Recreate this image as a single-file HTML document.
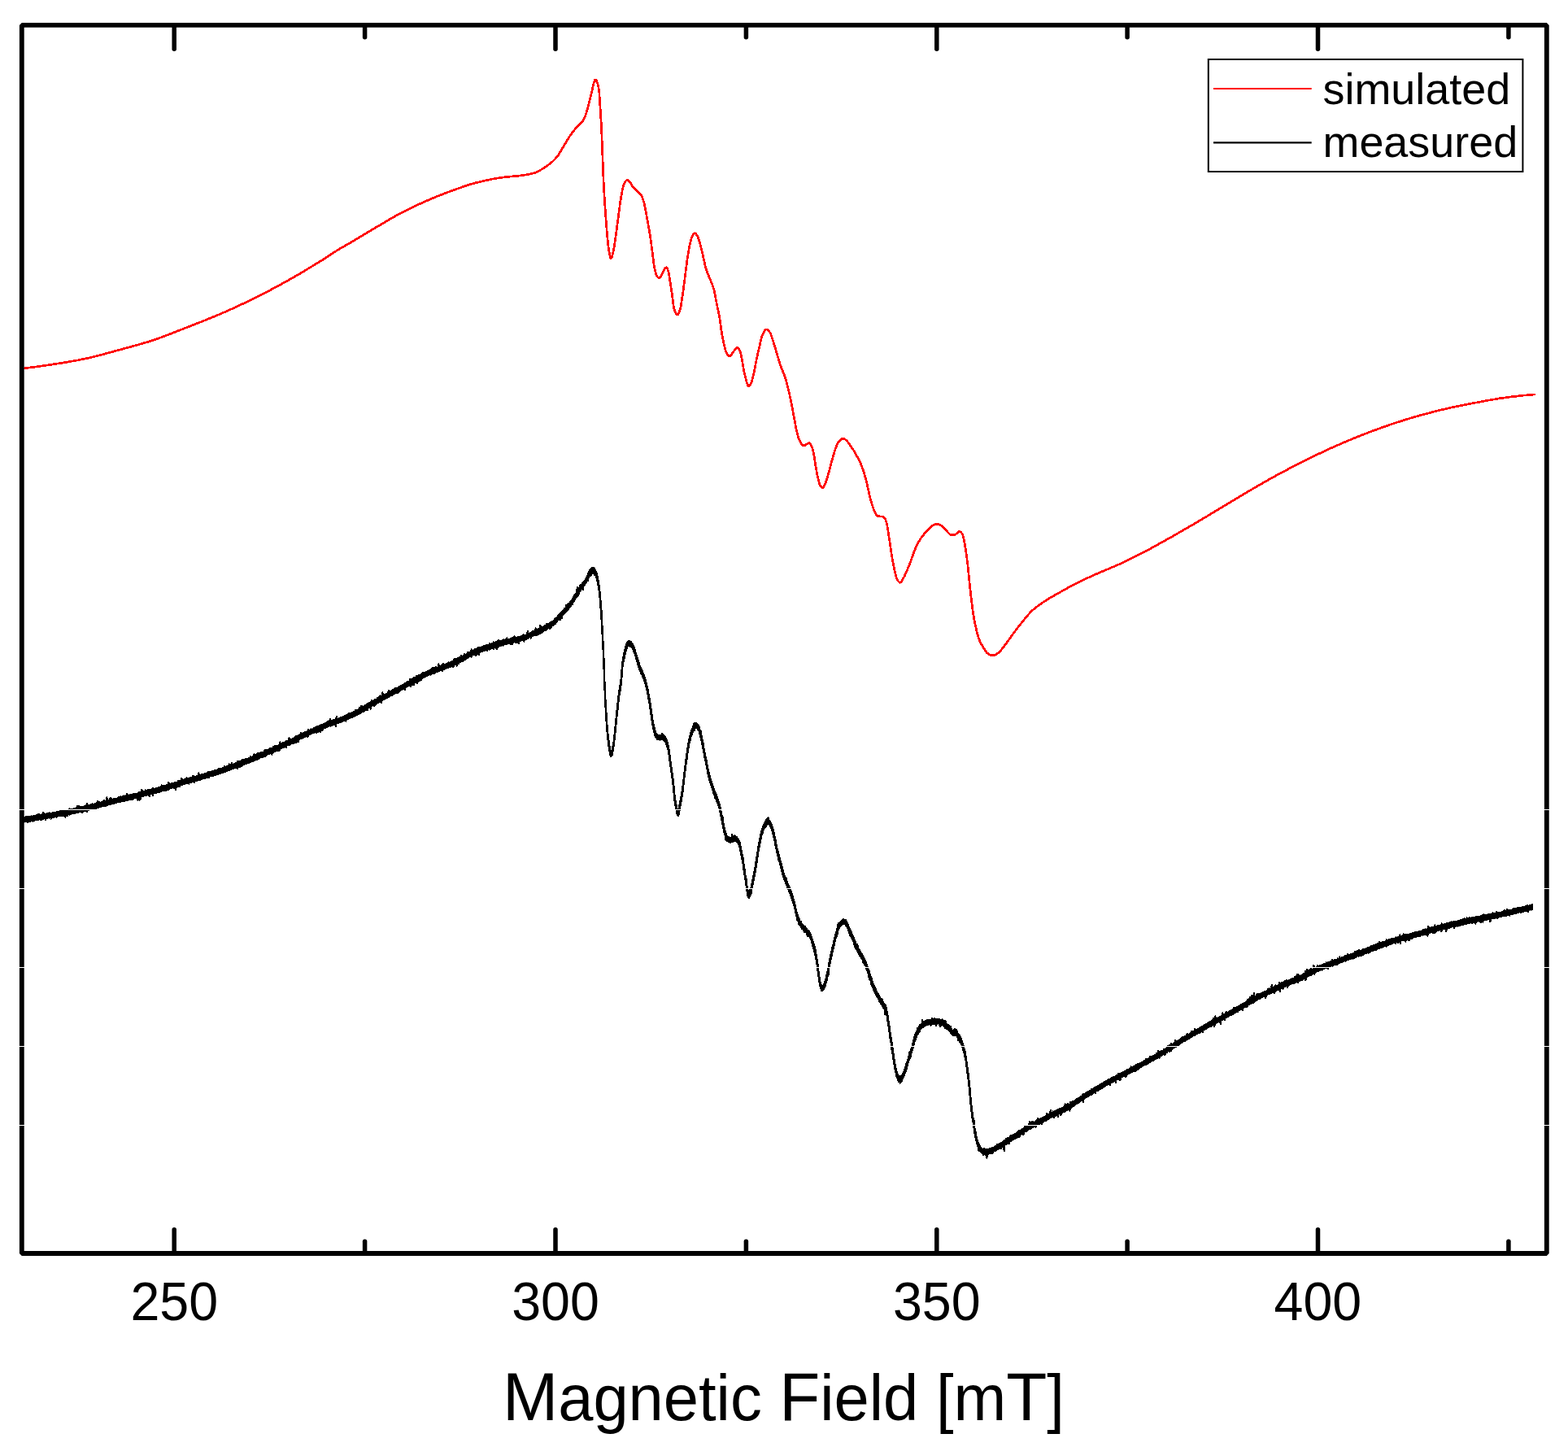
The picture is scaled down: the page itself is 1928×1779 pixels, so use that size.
<!DOCTYPE html>
<html><head><meta charset="utf-8"><title>Magnetic Field [mT]</title>
<style>
html,body{margin:0;padding:0;background:#fff;}
body{width:1928px;height:1779px;overflow:hidden;}
svg{display:block;}
text{font-family:"Liberation Sans",Arial,sans-serif;fill:#000;}
</style></head>
<body>
<svg width="1928" height="1779" viewBox="0 0 1928 1779">
<rect width="1928" height="1779" fill="#fff"/>
<!-- ticks -->
<g stroke="#000" stroke-width="5.5" stroke-linecap="round" fill="none">
<line x1="214.2" y1="1541.0" x2="214.2" y2="1511.7"/>
<line x1="214.2" y1="30.9" x2="214.2" y2="60.2"/>
<line x1="448.6" y1="1541.0" x2="448.6" y2="1526.2"/>
<line x1="448.6" y1="30.9" x2="448.6" y2="45.7"/>
<line x1="683.0" y1="1541.0" x2="683.0" y2="1511.7"/>
<line x1="683.0" y1="30.9" x2="683.0" y2="60.2"/>
<line x1="917.4" y1="1541.0" x2="917.4" y2="1526.2"/>
<line x1="917.4" y1="30.9" x2="917.4" y2="45.7"/>
<line x1="1151.8" y1="1541.0" x2="1151.8" y2="1511.7"/>
<line x1="1151.8" y1="30.9" x2="1151.8" y2="60.2"/>
<line x1="1386.1" y1="1541.0" x2="1386.1" y2="1526.2"/>
<line x1="1386.1" y1="30.9" x2="1386.1" y2="45.7"/>
<line x1="1620.5" y1="1541.0" x2="1620.5" y2="1511.7"/>
<line x1="1620.5" y1="30.9" x2="1620.5" y2="60.2"/>
<line x1="1854.9" y1="1541.0" x2="1854.9" y2="1526.2"/>
<line x1="1854.9" y1="30.9" x2="1854.9" y2="45.7"/>
</g>
<!-- curves -->
<path d="M27.3,453.2 50.5,450.1 76.5,446.2 95.0,443.0 109.8,439.9 126.0,435.8 161.1,426.3 172.8,423.0 181.3,420.5 188.8,418.1 196.3,415.5 204.6,412.4 250.3,394.5 261.8,389.8 272.1,385.5 286.1,379.3 299.8,372.9 313.3,366.4 326.1,360.0 337.3,354.0 349.1,347.6 359.1,342.0 369.6,335.9 394.6,320.8 412.1,309.4 418.3,305.5 434.8,296.1 459.1,281.5 482.3,267.8 491.1,262.9 500.6,258.1 511.1,253.0 521.5,248.2 536.8,241.7 551.5,236.0 571.8,228.7 578.3,226.6 584.3,224.9 599.3,221.4 606.0,220.0 612.3,218.9 621.0,217.7 639.0,216.1 648.0,214.7 652.5,213.8 656.8,212.7 659.3,211.8 661.8,210.6 664.3,209.3 667.3,207.4 675.3,202.0 680.0,198.0 684.0,193.9 685.3,192.5 686.8,190.3 697.8,171.7 699.8,168.6 702.5,164.7 705.8,160.3 708.8,156.7 710.3,155.2 714.5,151.3 716.0,149.6 717.0,148.1 718.0,146.3 719.3,143.5 721.0,138.6 724.3,126.7 730.3,101.6 731.3,98.6 731.8,97.9 732.0,97.8 732.5,98.1 733.3,99.1 734.3,101.2 735.0,103.2 736.0,107.7 736.8,112.9 739.5,155.5 742.0,220.8 742.8,235.8 744.3,259.7 746.3,286.0 748.0,303.1 748.8,308.5 749.5,312.3 750.3,315.7 750.8,317.1 751.0,317.6 751.3,317.7 751.8,317.3 752.5,315.5 754.3,308.8 755.0,304.7 758.0,284.0 762.5,249.8 764.3,238.8 765.3,233.5 767.0,227.1 767.8,225.1 768.5,223.6 769.8,222.1 770.8,221.3 771.5,221.2 772.5,221.8 775.3,225.0 778.0,229.4 779.3,231.1 781.3,233.1 786.8,238.2 787.8,239.3 789.0,241.1 790.0,243.5 791.8,248.9 793.0,254.3 798.5,284.0 800.0,293.7 804.0,324.9 805.5,332.8 806.5,336.8 807.3,338.7 808.8,340.9 809.8,341.8 810.3,342.0 810.8,342.0 811.3,341.7 812.0,340.7 817.0,331.1 818.0,329.6 818.8,328.9 819.3,328.8 819.8,329.1 820.5,330.3 822.0,334.1 822.5,336.4 826.3,361.4 827.8,373.3 828.5,378.2 829.5,381.5 831.0,385.1 832.0,386.6 832.5,386.9 833.0,387.0 833.5,386.7 834.0,386.0 835.3,383.2 836.8,378.5 837.5,374.7 840.3,355.7 845.0,319.2 846.8,308.0 848.0,301.4 849.8,294.3 850.5,291.9 851.0,290.8 852.5,288.3 853.5,287.2 854.0,286.9 854.5,286.8 855.0,287.0 855.5,287.3 856.5,288.6 857.8,290.7 858.5,292.3 859.3,294.5 861.0,300.4 862.0,304.3 864.5,315.0 866.8,325.3 868.0,330.2 869.8,335.2 876.0,350.4 877.8,355.9 878.8,360.4 881.0,372.1 884.5,389.0 885.3,393.7 887.0,406.7 888.5,415.2 891.5,428.8 892.3,431.6 893.0,433.6 894.5,435.8 895.8,437.1 896.8,437.8 897.3,437.9 897.8,437.8 898.3,437.6 899.0,436.8 901.5,432.9 904.3,428.9 905.3,427.8 906.0,427.3 906.8,427.4 907.5,427.9 908.5,429.2 910.0,431.8 910.8,434.3 912.5,443.1 914.3,453.8 915.8,461.0 916.8,465.1 918.5,470.9 919.5,473.6 920.3,474.7 920.5,474.8 921.0,474.7 922.0,473.7 923.3,471.6 924.3,469.4 925.0,466.9 927.3,457.1 930.0,442.9 931.5,436.0 936.0,416.6 937.3,412.1 938.5,409.5 940.0,407.0 941.0,405.7 942.0,405.1 942.5,405.0 943.0,405.1 944.0,405.6 945.0,406.6 946.5,408.4 947.3,409.7 948.0,411.5 951.0,420.4 958.8,446.7 960.0,450.1 964.0,460.1 965.8,465.4 967.5,471.3 969.8,480.4 972.8,494.2 978.8,526.1 980.5,533.5 982.0,538.8 983.0,541.4 984.8,544.5 986.0,546.4 987.3,547.6 988.3,547.9 989.3,547.7 990.3,547.2 993.3,545.1 994.3,544.7 995.0,544.6 995.8,545.0 996.5,545.9 997.3,547.2 998.5,549.8 999.5,553.1 1000.8,559.0 1002.8,572.5 1005.0,584.5 1007.3,593.5 1008.0,595.8 1008.5,597.0 1009.5,598.4 1010.3,599.3 1011.0,599.8 1011.5,599.8 1012.0,599.4 1012.8,598.5 1015.0,594.0 1016.3,590.5 1018.5,582.9 1022.3,568.4 1025.8,556.1 1026.8,553.1 1028.5,548.6 1029.8,545.8 1030.8,543.9 1032.3,542.0 1033.8,540.4 1035.0,539.4 1036.0,539.1 1037.3,539.3 1038.8,540.0 1040.5,541.2 1041.8,542.5 1048.5,552.0 1050.8,555.5 1057.0,567.1 1059.3,572.2 1062.3,581.0 1064.8,589.7 1066.3,595.7 1069.0,608.6 1070.5,614.4 1073.5,624.0 1075.0,628.0 1077.3,632.2 1078.0,633.4 1078.8,634.2 1079.3,634.6 1079.8,634.7 1084.5,635.0 1086.0,635.2 1086.8,635.8 1087.5,636.6 1088.5,638.1 1089.0,639.2 1090.3,643.6 1091.3,648.3 1097.0,686.2 1099.3,698.3 1101.3,706.9 1102.3,710.6 1103.0,712.4 1104.8,714.9 1105.8,715.8 1106.5,716.2 1107.0,716.2 1107.8,715.7 1109.0,714.0 1112.0,708.6 1114.0,704.2 1118.3,694.0 1120.3,688.8 1123.5,679.4 1125.0,675.7 1127.8,669.5 1130.3,665.0 1132.0,662.3 1134.0,659.5 1139.5,652.7 1142.3,649.8 1146.5,646.4 1149.0,644.8 1150.3,644.3 1151.3,644.2 1152.5,644.3 1153.8,644.6 1157.3,646.0 1158.3,646.7 1159.5,647.9 1167.3,656.4 1168.3,657.3 1169.0,657.6 1169.5,657.7 1171.5,657.6 1174.0,657.4 1174.5,657.2 1175.5,656.6 1178.3,653.9 1179.0,653.5 1179.5,653.3 1180.3,653.4 1181.0,653.8 1181.8,654.5 1182.5,655.5 1183.8,657.7 1184.5,660.3 1186.3,668.9 1187.5,676.6 1188.5,683.5 1189.8,693.8 1193.0,725.1 1195.3,744.8 1196.5,753.6 1197.5,759.7 1198.8,766.3 1200.3,773.2 1202.0,780.1 1203.5,785.0 1204.8,788.1 1206.5,791.6 1211.5,800.0 1213.0,802.1 1213.8,802.9 1214.8,803.6 1216.8,804.7 1218.3,805.4 1219.5,805.7 1220.5,805.8 1221.5,805.7 1222.5,805.5 1224.3,804.7 1226.8,803.3 1228.5,801.9 1230.5,799.7 1235.8,793.0 1247.8,776.4 1251.8,771.1 1262.5,757.8 1265.8,754.1 1269.5,750.4 1274.5,746.3 1281.8,741.0 1289.0,736.3 1293.0,734.0 1315.5,721.3 1326.0,715.8 1335.0,711.6 1347.8,705.8 1370.5,696.2 1379.8,692.1 1395.3,684.5 1414.8,674.4 1442.8,658.8 1467.0,644.9 1481.0,636.6 1529.0,607.7 1546.0,597.7 1558.3,590.7 1570.5,583.9 1584.5,576.5 1605.0,566.0 1619.5,558.9 1635.3,551.5 1651.0,544.6 1668.0,537.5 1684.0,531.2 1700.8,525.1 1715.5,520.0 1732.0,514.8 1747.8,510.2 1766.8,505.2 1784.8,501.0 1803.3,497.2 1830.3,492.1 1843.3,489.9 1857.3,488.0 1872.8,486.2 1886.7,485.0" shape-rendering="crispEdges" fill="none" stroke="#ff0000" stroke-width="2.7" stroke-linejoin="round" stroke-linecap="round"/>
<path d="M29.3,1005.4 29.8,1005.5 30.3,1005.4 30.8,1005.3 31.3,1004.6 31.8,1005.0 32.3,1004.9 32.8,1004.6 33.3,1004.1 33.8,1004.4 34.3,1004.4 34.8,1004.5 35.3,1004.2 35.8,1004.2 36.3,1004.4 36.8,1004.4 37.3,1004.0 37.8,1004.0 38.3,1004.3 38.8,1003.5 39.3,1004.1 39.8,1004.0 40.3,1003.5 40.8,1003.0 41.3,1003.5 41.8,1003.6 42.3,1002.7 42.8,1003.4 43.3,1003.0 43.8,1003.2 44.3,1003.2 44.8,1002.6 45.3,1002.9 45.8,1002.9 46.3,1001.6 46.8,1002.4 47.3,1002.3 47.8,1002.3 48.3,1000.8 48.8,1002.2 49.3,1002.6 49.8,1002.3 50.3,1002.0 50.8,1001.8 51.3,1001.6 51.8,1001.6 52.3,1002.0 52.8,998.8 53.3,1000.5 53.8,1001.7 54.3,999.8 54.8,1001.1 55.3,1001.3 55.8,1001.3 56.3,1001.3 56.8,1001.0 57.3,1001.2 57.8,1000.4 58.3,1000.8 58.8,1000.8 59.3,1000.6 59.8,1000.8 60.3,999.6 60.8,1000.2 61.3,1000.3 61.8,999.9 62.3,1000.3 62.8,1000.0 63.3,1000.0 63.8,1000.0 64.3,999.6 64.8,999.6 65.3,999.4 65.8,999.2 66.3,999.6 66.8,999.5 67.3,999.0 67.8,999.4 68.3,999.0 68.8,998.9 69.3,999.1 69.8,999.0 70.3,998.2 70.8,998.3 71.3,998.2 71.8,998.4 72.3,998.0 72.8,998.5 73.3,997.4 73.8,997.7 74.3,997.6 74.8,997.7 75.3,997.6 75.8,997.3 76.3,997.1 76.8,996.4 77.3,997.4 77.8,996.5 78.3,996.8 78.8,997.1 79.3,997.0 79.8,996.7 80.3,996.2 80.8,996.4 81.3,996.2 81.8,996.4 82.3,996.0 82.8,995.9 83.3,996.0 83.8,996.3 84.3,996.0 84.8,995.4 85.3,995.0 85.8,994.6 86.3,995.7 86.8,995.1 87.3,995.3 87.8,995.4 88.3,995.1 88.8,995.2 89.3,994.9 89.8,994.7 90.3,994.5 90.8,994.4 91.3,994.5 91.8,994.3 92.3,993.9 92.8,994.0 93.3,994.3 93.8,993.0 94.3,993.2 94.8,992.5 95.3,991.3 95.8,992.3 96.3,993.1 96.8,990.9 97.3,992.9 97.8,992.8 98.3,993.1 98.8,992.5 99.3,992.6 99.8,992.6 100.3,992.3 100.8,992.5 101.3,992.4 101.8,991.9 102.3,992.2 102.8,992.1 103.3,991.8 103.8,991.4 104.3,991.4 104.8,991.3 105.3,991.1 105.8,991.5 106.3,991.2 106.8,988.0 107.3,990.4 107.8,991.0 108.3,990.9 108.8,990.6 109.3,990.5 109.8,990.0 110.3,990.1 110.8,990.4 111.3,989.6 111.8,989.5 112.3,989.7 112.8,989.5 113.3,989.4 113.8,988.6 114.3,989.3 114.8,989.5 115.3,989.0 115.8,989.1 116.3,988.7 116.8,988.6 117.3,988.5 117.8,988.6 118.3,987.9 118.8,987.6 119.3,987.6 119.8,985.2 120.3,987.9 120.8,987.5 121.3,987.4 121.8,986.3 122.3,986.7 122.8,987.1 123.3,987.0 123.8,986.7 124.3,986.5 124.8,986.3 125.3,986.7 125.8,986.2 126.3,986.1 126.8,985.0 127.3,986.1 127.8,985.7 128.3,983.9 128.8,985.5 129.3,985.2 129.8,985.2 130.3,985.2 130.8,983.1 131.3,980.6 131.8,984.3 132.3,984.8 132.8,984.7 133.3,984.4 133.8,984.1 134.3,984.3 134.8,982.6 135.3,984.0 135.8,983.7 136.3,981.1 136.8,983.6 137.3,983.3 137.8,983.3 138.3,983.4 138.8,983.0 139.3,982.5 139.8,982.4 140.3,982.8 140.8,982.6 141.3,982.0 141.8,982.5 142.3,982.1 142.8,981.7 143.3,982.0 143.8,981.8 144.3,981.7 144.8,981.2 145.3,980.6 145.8,981.5 146.3,980.3 146.8,980.3 147.3,981.1 147.8,980.5 148.3,979.5 148.8,980.0 149.3,980.6 149.8,979.9 150.3,980.0 150.8,979.6 151.3,979.6 151.8,979.7 152.3,979.5 152.8,978.6 153.3,979.2 153.8,979.3 154.3,979.4 154.8,978.7 155.3,978.9 155.8,976.0 156.3,978.8 156.8,978.7 157.3,976.8 157.8,978.2 158.3,977.7 158.8,978.3 159.3,978.0 159.8,977.7 160.3,977.0 160.8,977.6 161.3,977.6 161.8,977.1 162.3,977.2 162.8,976.9 163.3,977.1 163.8,976.4 164.3,976.7 164.8,976.2 165.3,976.1 165.8,976.1 166.3,976.4 166.8,976.0 167.3,975.9 167.8,975.8 168.3,975.8 168.8,975.9 169.3,975.4 169.8,975.6 170.3,975.2 170.8,973.8 171.3,975.1 171.8,974.6 172.3,974.7 172.8,974.3 173.3,974.3 173.8,974.0 174.3,971.0 174.8,974.2 175.3,974.1 175.8,973.8 176.3,973.6 176.8,973.4 177.3,973.7 177.8,973.6 178.3,973.5 178.8,971.5 179.3,972.6 179.8,972.4 180.3,972.3 180.8,971.9 181.3,971.8 181.8,970.8 182.3,971.7 182.8,972.2 183.3,971.7 183.8,971.5 184.3,971.2 184.8,971.2 185.3,970.9 185.8,970.8 186.3,971.3 186.8,970.8 187.3,970.5 187.8,969.0 188.3,970.3 188.8,970.0 189.3,969.9 189.8,970.1 190.3,969.7 190.8,969.8 191.3,969.5 191.8,969.8 192.3,969.1 192.8,969.5 193.3,969.4 193.8,968.8 194.3,968.8 194.8,968.6 195.3,968.3 195.8,968.3 196.3,967.9 196.8,968.0 197.3,968.1 197.8,967.4 198.3,967.8 198.8,965.6 199.3,967.0 199.8,967.0 200.3,967.3 200.8,966.0 201.3,966.4 201.8,966.3 202.3,966.7 202.8,965.9 203.3,966.2 203.8,966.0 204.3,965.5 204.8,965.7 205.3,965.4 205.8,965.2 206.3,965.3 206.8,965.3 207.3,962.4 207.8,963.2 208.3,964.5 208.8,964.7 209.3,964.4 209.8,963.6 210.3,963.6 210.8,964.0 211.3,963.8 211.8,963.2 212.3,963.2 212.8,962.9 213.3,963.1 213.8,963.0 214.3,963.0 214.8,962.3 215.3,962.4 215.8,962.0 216.3,962.2 216.8,961.8 217.3,962.1 217.8,962.0 218.3,961.7 218.8,961.5 219.3,960.3 219.8,961.1 220.3,961.1 220.8,960.5 221.3,960.7 221.8,960.4 222.3,960.1 222.8,959.8 223.3,957.0 223.8,959.0 224.3,959.7 224.8,959.7 225.3,959.2 225.8,958.9 226.3,958.8 226.8,958.4 227.3,958.9 227.8,958.4 228.3,958.6 228.8,958.6 229.3,956.6 229.8,958.4 230.3,957.8 230.8,957.6 231.3,956.8 231.8,957.4 232.3,957.3 232.8,956.9 233.3,957.3 233.8,956.3 234.3,956.8 234.8,956.7 235.3,956.2 235.8,956.2 236.3,956.0 236.8,956.2 237.3,954.1 237.8,954.6 238.3,955.4 238.8,954.6 239.3,955.0 239.8,955.1 240.3,955.3 240.8,955.0 241.3,954.6 241.8,954.7 242.3,954.1 242.8,953.8 243.3,953.6 243.8,953.9 244.3,950.5 244.8,953.6 245.3,953.8 245.8,953.5 246.3,953.2 246.8,952.9 247.3,952.7 247.8,952.6 248.3,952.3 248.8,951.7 249.3,952.2 249.8,952.0 250.3,951.9 250.8,952.0 251.3,951.7 251.8,951.3 252.3,951.3 252.8,951.2 253.3,950.9 253.8,951.2 254.3,951.1 254.8,950.4 255.3,950.8 255.8,949.2 256.3,950.0 256.8,949.9 257.3,950.1 257.8,949.5 258.3,949.8 258.8,949.3 259.3,948.8 259.8,949.4 260.3,948.9 260.8,948.6 261.3,948.7 261.8,948.5 262.3,947.7 262.8,947.9 263.3,948.1 263.8,947.0 264.3,948.0 264.8,947.7 265.3,946.9 265.8,947.4 266.3,947.1 266.8,947.0 267.3,946.9 267.8,946.3 268.3,946.2 268.8,945.6 269.3,946.0 269.8,946.2 270.3,945.2 270.8,945.8 271.3,945.5 271.8,945.1 272.3,945.2 272.8,944.9 273.3,945.1 273.8,944.5 274.3,944.1 274.8,944.1 275.3,944.4 275.8,942.1 276.3,944.0 276.8,943.5 277.3,943.3 277.8,943.3 278.3,943.0 278.8,943.0 279.3,942.0 279.8,942.5 280.3,942.2 280.8,942.3 281.3,942.2 281.8,939.5 282.3,941.8 282.8,941.3 283.3,941.5 283.8,940.9 284.3,940.9 284.8,938.0 285.3,940.2 285.8,940.2 286.3,940.1 286.8,939.7 287.3,939.7 287.8,939.3 288.3,939.2 288.8,939.1 289.3,939.3 289.8,938.6 290.3,938.5 290.8,938.5 291.3,938.4 291.8,936.2 292.3,938.0 292.8,938.0 293.3,937.6 293.8,935.9 294.3,937.5 294.8,935.8 295.3,937.0 295.8,936.5 296.3,936.0 296.8,936.4 297.3,934.5 297.8,936.0 298.3,935.3 298.8,935.2 299.3,934.2 299.8,934.0 300.3,935.1 300.8,934.6 301.3,934.1 301.8,933.1 302.3,933.8 302.8,933.7 303.3,933.4 303.8,933.5 304.3,932.9 304.8,933.3 305.3,932.6 305.8,932.9 306.3,932.6 306.8,931.9 307.3,932.2 307.8,930.1 308.3,931.7 308.8,931.5 309.3,931.5 309.8,931.3 310.3,930.9 310.8,930.8 311.3,930.1 311.8,930.1 312.3,927.6 312.8,930.1 313.3,929.9 313.8,927.8 314.3,929.3 314.8,929.0 315.3,928.6 315.8,928.2 316.3,927.9 316.8,925.9 317.3,927.6 317.8,926.5 318.3,926.2 318.8,927.3 319.3,926.9 319.8,926.6 320.3,926.7 320.8,925.5 321.3,925.4 321.8,925.9 322.3,925.5 322.8,925.4 323.3,924.8 323.8,924.9 324.3,924.5 324.8,924.7 325.3,924.1 325.8,922.0 326.3,924.0 326.8,923.6 327.3,923.6 327.8,922.5 328.3,922.6 328.8,923.1 329.3,922.8 329.8,922.6 330.3,921.7 330.8,921.9 331.3,921.5 331.8,920.0 332.3,921.1 332.8,920.9 333.3,919.9 333.8,920.4 334.3,920.5 334.8,920.0 335.3,919.5 335.8,919.3 336.3,918.1 336.8,918.7 337.3,918.8 337.8,917.2 338.3,918.2 338.8,918.2 339.3,917.7 339.8,917.5 340.3,917.5 340.8,917.5 341.3,916.9 341.8,917.0 342.3,916.7 342.8,916.4 343.3,916.2 343.8,915.6 344.3,912.6 344.8,915.4 345.3,915.1 345.8,914.9 346.3,914.6 346.8,914.4 347.3,913.8 347.8,913.9 348.3,913.1 348.8,913.5 349.3,913.2 349.8,913.2 350.3,912.8 350.8,912.9 351.3,912.1 351.8,912.2 352.3,911.3 352.8,911.8 353.3,911.1 353.8,911.3 354.3,910.8 354.8,910.9 355.3,908.4 355.8,907.4 356.3,909.7 356.8,909.4 357.3,909.6 357.8,909.4 358.3,909.0 358.8,908.7 359.3,908.4 359.8,908.2 360.3,908.4 360.8,907.8 361.3,907.7 361.8,907.5 362.3,907.3 362.8,906.8 363.3,906.3 363.8,906.2 364.3,905.0 364.8,905.8 365.3,905.9 365.8,905.1 366.3,905.0 366.8,904.1 367.3,904.4 367.8,904.3 368.3,904.5 368.8,904.0 369.3,902.8 369.8,901.3 370.3,900.8 370.8,903.1 371.3,902.7 371.8,902.2 372.3,902.3 372.8,901.2 373.3,901.6 373.8,901.5 374.3,901.5 374.8,901.1 375.3,900.1 375.8,900.6 376.3,900.6 376.8,899.9 377.3,900.0 377.8,899.5 378.3,899.2 378.8,899.3 379.3,897.4 379.8,897.8 380.3,898.3 380.8,898.1 381.3,897.8 381.8,897.8 382.3,896.5 382.8,897.1 383.3,896.8 383.8,896.7 384.3,896.5 384.8,896.4 385.3,895.7 385.8,895.6 386.3,895.2 386.8,895.2 387.3,895.1 387.8,894.9 388.3,894.2 388.8,894.1 389.3,893.9 389.8,893.2 390.3,893.4 390.8,893.1 391.3,893.4 391.8,893.0 392.3,892.5 392.8,892.2 393.3,892.5 393.8,891.8 394.3,891.6 394.8,891.6 395.3,891.7 395.8,891.6 396.3,890.9 396.8,891.2 397.3,890.6 397.8,890.4 398.3,889.9 398.8,890.0 399.3,889.6 399.8,889.7 400.3,889.3 400.8,889.5 401.3,888.7 401.8,888.8 402.3,888.5 402.8,886.9 403.3,888.1 403.8,888.1 404.3,887.7 404.8,888.0 405.3,887.7 405.8,884.3 406.3,887.1 406.8,887.3 407.3,885.9 407.8,886.7 408.3,886.4 408.8,886.1 409.3,885.7 409.8,885.6 410.3,886.1 410.8,885.8 411.3,885.3 411.8,885.0 412.3,885.2 412.8,884.8 413.3,884.7 413.8,881.4 414.3,884.6 414.8,883.6 415.3,884.0 415.8,883.7 416.3,883.5 416.8,883.5 417.3,882.9 417.8,882.7 418.3,883.0 418.8,882.4 419.3,882.5 419.8,882.3 420.3,882.0 420.8,881.9 421.3,881.4 421.8,880.9 422.3,881.0 422.8,881.3 423.3,880.4 423.8,880.8 424.3,880.3 424.8,879.9 425.3,880.2 425.8,879.6 426.3,879.3 426.8,879.6 427.3,878.8 427.8,879.0 428.3,878.8 428.8,876.7 429.3,878.5 429.8,878.2 430.3,877.8 430.8,877.1 431.3,877.0 431.8,876.9 432.3,876.9 432.8,876.4 433.3,875.9 433.8,875.9 434.3,876.1 434.8,875.7 435.3,875.1 435.8,875.2 436.3,875.0 436.8,874.5 437.3,873.0 437.8,874.4 438.3,873.6 438.8,873.3 439.3,873.1 439.8,873.4 440.3,872.7 440.8,872.7 441.3,871.9 441.8,872.3 442.3,870.3 442.8,871.7 443.3,870.7 443.8,868.6 444.3,870.3 444.8,868.0 445.3,869.7 445.8,869.8 446.3,869.2 446.8,869.4 447.3,868.9 447.8,868.5 448.3,868.5 448.8,867.6 449.3,868.0 449.8,867.7 450.3,867.1 450.8,866.7 451.3,865.5 451.8,866.3 452.3,865.7 452.8,865.4 453.3,865.4 453.8,865.0 454.3,864.3 454.8,864.5 455.3,864.5 455.8,864.0 456.3,863.5 456.8,861.2 457.3,862.9 457.8,863.1 458.3,862.5 458.8,862.3 459.3,861.8 459.8,861.5 460.3,861.6 460.8,859.9 461.3,860.5 461.8,860.9 462.3,860.4 462.8,860.2 463.3,859.4 463.8,859.1 464.3,858.0 464.8,858.7 465.3,858.3 465.8,856.7 466.3,858.3 466.8,857.9 467.3,855.6 467.8,857.4 468.3,857.1 468.8,856.6 469.3,856.4 469.8,856.0 470.3,851.6 470.8,855.7 471.3,855.4 471.8,855.2 472.3,854.2 472.8,854.8 473.3,854.3 473.8,854.1 474.3,853.9 474.8,853.4 475.3,852.9 475.8,852.7 476.3,852.4 476.8,852.2 477.3,852.3 477.8,849.2 478.3,851.2 478.8,850.9 479.3,851.1 479.8,850.5 480.3,850.6 480.8,850.4 481.3,850.1 481.8,849.3 482.3,849.3 482.8,848.5 483.3,849.0 483.8,848.1 484.3,847.9 484.8,847.6 485.3,847.8 485.8,847.2 486.3,846.2 486.8,846.6 487.3,846.3 487.8,846.0 488.3,846.0 488.8,845.8 489.3,845.4 489.8,845.0 490.3,844.6 490.8,844.8 491.3,844.0 491.8,843.9 492.3,843.9 492.8,843.2 493.3,843.3 493.8,842.8 494.3,842.5 494.8,842.6 495.3,842.1 495.8,842.1 496.3,841.5 496.8,841.6 497.3,841.3 497.8,840.4 498.3,840.4 498.8,839.9 499.3,839.8 499.8,839.7 500.3,839.2 500.8,839.0 501.3,838.2 501.8,838.8 502.3,838.2 502.8,837.9 503.3,837.9 503.8,837.0 504.3,835.0 504.8,836.6 505.3,836.4 505.8,835.0 506.3,835.9 506.8,835.5 507.3,835.5 507.8,834.9 508.3,834.4 508.8,833.0 509.3,833.8 509.8,833.5 510.3,833.3 510.8,833.6 511.3,832.8 511.8,831.4 512.3,832.2 512.8,832.4 513.3,831.5 513.8,831.7 514.3,831.2 514.8,831.0 515.3,830.2 515.8,830.4 516.3,829.7 516.8,830.0 517.3,830.0 517.8,829.4 518.3,828.9 518.8,829.1 519.3,828.1 519.8,827.3 520.3,828.4 520.8,828.0 521.3,826.8 521.8,827.1 522.3,826.9 522.8,826.8 523.3,826.4 523.8,826.7 524.3,825.8 524.8,825.9 525.3,825.8 525.8,825.6 526.3,825.1 526.8,824.8 527.3,824.6 527.8,823.8 528.3,824.5 528.8,824.0 529.3,823.9 529.8,823.5 530.3,823.2 530.8,822.4 531.3,822.6 531.8,822.6 532.3,820.8 532.8,822.4 533.3,821.1 533.8,822.2 534.3,821.6 534.8,821.5 535.3,821.8 535.8,821.1 536.3,819.9 536.8,820.8 537.3,820.9 537.8,820.7 538.3,820.4 538.8,820.3 539.3,816.6 539.8,819.8 540.3,819.6 540.8,819.8 541.3,819.1 541.8,819.0 542.3,819.0 542.8,818.4 543.3,818.3 543.8,817.1 544.3,818.4 544.8,817.9 545.3,815.9 545.8,817.7 546.3,817.3 546.8,817.5 547.3,817.1 547.8,816.8 548.3,816.4 548.8,815.8 549.3,816.1 549.8,816.1 550.3,815.8 550.8,814.9 551.3,815.7 551.8,814.5 552.3,815.2 552.8,814.7 553.3,814.5 553.8,814.3 554.3,813.9 554.8,813.9 555.3,814.1 555.8,813.7 556.3,812.9 556.8,812.9 557.3,812.6 557.8,812.8 558.3,812.4 558.8,809.8 559.3,811.6 559.8,811.3 560.3,811.2 560.8,809.8 561.3,809.9 561.8,810.4 562.3,810.2 562.8,809.4 563.3,810.2 563.8,809.8 564.3,808.9 564.8,808.5 565.3,808.4 565.8,808.1 566.3,807.9 566.8,807.7 567.3,806.3 567.8,806.5 568.3,806.9 568.8,807.0 569.3,806.4 569.8,806.5 570.3,805.7 570.8,806.0 571.3,804.2 571.8,804.7 572.3,805.1 572.8,804.7 573.3,804.8 573.8,804.2 574.3,804.2 574.8,803.5 575.3,802.2 575.8,802.9 576.3,802.6 576.8,802.9 577.3,802.2 577.8,801.9 578.3,802.1 578.8,801.9 579.3,801.4 579.8,798.5 580.3,800.7 580.8,800.5 581.3,800.6 581.8,799.9 582.3,799.4 582.8,800.0 583.3,799.4 583.8,799.3 584.3,798.2 584.8,798.7 585.3,798.5 585.8,798.7 586.3,798.3 586.8,797.8 587.3,797.2 587.8,796.4 588.3,797.6 588.8,795.8 589.3,796.2 589.8,796.9 590.3,796.6 590.8,796.8 591.3,796.6 591.8,795.8 592.3,796.2 592.8,795.6 593.3,795.9 593.8,794.8 594.3,795.1 594.8,794.1 595.3,795.0 595.8,794.5 596.3,793.8 596.8,794.2 597.3,794.3 597.8,793.5 598.3,793.9 598.8,792.7 599.3,793.6 599.8,793.2 600.3,793.0 600.8,793.0 601.3,792.9 601.8,792.9 602.3,791.1 602.8,792.3 603.3,792.4 603.8,792.1 604.3,792.0 604.8,791.9 605.3,791.3 605.8,791.7 606.3,791.5 606.8,789.4 607.3,791.3 607.8,791.0 608.3,790.9 608.8,790.1 609.3,789.5 609.8,789.8 610.3,790.3 610.8,789.5 611.3,789.5 611.8,789.6 612.3,789.4 612.8,786.7 613.3,789.1 613.8,788.9 614.3,788.8 614.8,788.3 615.3,788.9 615.8,788.6 616.3,788.1 616.8,788.3 617.3,787.4 617.8,787.7 618.3,787.5 618.8,787.4 619.3,787.3 619.8,786.6 620.3,787.1 620.8,787.4 621.3,787.0 621.8,786.6 622.3,786.7 622.8,786.8 623.3,784.5 623.8,786.3 624.3,786.3 624.8,786.0 625.3,785.8 625.8,785.9 626.3,786.1 626.8,786.0 627.3,786.0 627.8,785.7 628.3,785.2 628.8,785.6 629.3,785.1 629.8,784.7 630.3,784.2 630.8,784.8 631.3,783.7 631.8,784.2 632.3,782.5 632.8,783.7 633.3,784.5 633.8,784.2 634.3,784.6 634.8,784.2 635.3,784.1 635.8,784.0 636.3,783.8 636.8,783.8 637.3,783.3 637.8,783.6 638.3,783.3 638.8,782.9 639.3,783.2 639.8,783.2 640.3,782.5 640.8,782.9 641.3,782.6 641.8,782.3 642.3,782.2 642.8,781.7 643.3,780.6 643.8,781.8 644.3,781.7 644.8,781.5 645.3,781.4 645.8,781.0 646.3,781.0 646.8,780.8 647.3,780.7 647.8,780.3 648.3,779.9 648.8,776.4 649.3,779.6 649.8,779.7 650.3,779.0 650.8,778.7 651.3,779.0 651.8,778.4 652.3,778.4 652.8,777.9 653.3,777.6 653.8,777.5 654.3,777.7 654.8,777.3 655.3,776.0 655.8,776.6 656.3,776.7 656.8,776.4 657.3,776.2 657.8,775.4 658.3,775.8 658.8,772.5 659.3,775.1 659.8,774.5 660.3,774.4 660.8,774.2 661.3,773.7 661.8,773.5 662.3,773.5 662.8,773.1 663.3,773.2 663.8,772.7 664.3,768.8 664.8,772.2 665.3,771.7 665.8,771.5 666.3,771.5 666.8,771.3 667.3,771.3 667.8,770.7 668.3,770.6 668.8,770.3 669.3,769.5 669.8,769.9 670.3,769.2 670.8,769.6 671.3,768.7 671.8,768.7 672.3,767.3 672.8,768.3 673.3,768.0 673.8,767.7 674.3,767.1 674.8,767.2 675.3,766.5 675.8,766.4 676.3,766.0 676.8,765.5 677.3,765.5 677.8,765.0 678.3,764.4 678.8,764.3 679.3,763.9 679.8,764.0 680.3,763.6 680.8,762.9 681.3,762.6 681.8,762.2 682.3,761.5 682.8,760.3 683.3,759.9 683.8,759.9 684.3,759.6 684.8,759.1 685.3,758.5 685.8,758.1 686.3,757.0 686.8,756.7 687.3,756.0 687.8,755.4 688.3,755.0 688.8,753.7 689.3,754.2 689.8,753.2 690.3,752.8 690.8,752.5 691.3,751.5 691.8,751.3 692.3,750.4 692.8,750.5 693.3,749.9 693.8,749.1 694.3,748.0 694.8,747.7 695.3,747.4 695.8,746.9 696.3,744.3 696.8,745.6 697.3,745.4 697.8,744.5 698.3,742.5 698.8,743.4 699.3,743.2 699.8,742.7 700.3,741.8 700.8,741.3 701.3,740.4 701.8,739.5 702.3,739.2 702.8,738.6 703.3,737.7 703.8,736.8 704.3,736.0 704.8,734.5 705.3,734.6 705.8,733.3 706.3,732.3 706.8,732.4 707.3,731.4 707.8,730.3 708.3,729.9 708.8,728.6 709.3,728.0 709.8,722.3 710.3,726.3 710.8,725.9 711.3,724.8 711.8,723.6 712.3,723.0 712.8,722.1 713.3,721.5 713.8,718.7 714.3,720.3 714.8,719.0 715.3,718.7 715.8,717.9 716.3,717.4 716.8,716.1 717.3,715.9 717.8,715.5 718.3,715.1 718.8,714.1 719.3,713.6 719.8,713.0 720.3,711.9 720.8,710.9 721.3,710.3 721.8,709.2 722.3,707.6 722.8,706.5 723.3,704.8 723.8,704.2 724.3,702.9 724.8,702.7 725.3,701.4 725.8,700.5 726.3,699.7 726.8,699.4 727.3,699.1 727.8,697.8 728.3,698.2 728.8,698.3 729.3,698.2 729.8,699.0 730.3,698.9 730.8,698.6 731.3,700.3 731.8,701.6 732.3,702.4 732.8,703.2 733.3,704.3 733.8,706.2 734.3,708.2 734.8,709.1 735.3,712.7 735.8,715.6 736.3,719.0 736.8,722.1 737.3,726.1 737.8,731.1 738.3,738.0 738.8,739.9 739.3,749.2 739.8,758.4 740.3,768.1 740.8,777.8 741.3,786.8 741.8,796.9 742.3,807.3 742.8,820.8 743.3,835.9 743.8,847.7 744.3,858.6 744.8,867.7 745.3,875.3 745.8,883.7 746.3,890.1 746.8,896.5 747.3,901.8 747.8,906.3 748.3,910.1 748.8,914.3 749.3,916.9 749.8,919.3 750.3,922.4 750.8,924.4 751.3,925.3 751.8,924.8 752.3,923.7 752.8,922.0 753.3,919.3 753.8,916.9 754.3,914.3 754.8,910.7 755.3,904.9 755.8,901.8 756.3,897.3 756.8,892.0 757.3,887.0 757.8,882.0 758.3,876.8 758.8,872.0 759.3,867.8 759.8,863.1 760.3,859.2 760.8,854.2 761.3,850.4 761.8,847.6 762.3,845.1 762.8,841.4 763.3,838.9 763.8,833.8 764.3,829.1 764.8,821.4 765.3,815.3 765.8,811.6 766.3,808.8 766.8,806.1 767.3,803.5 767.8,801.6 768.3,800.0 768.8,797.7 769.3,796.1 769.8,794.0 770.3,792.3 770.8,791.0 771.3,790.0 771.8,789.5 772.3,789.3 772.8,788.5 773.3,788.6 773.8,788.2 774.3,788.1 774.8,788.7 775.3,789.0 775.8,789.1 776.3,789.7 776.8,790.9 777.3,791.1 777.8,792.3 778.3,793.3 778.8,794.2 779.3,795.4 779.8,796.3 780.3,797.8 780.8,799.7 781.3,801.5 781.8,803.1 782.3,804.6 782.8,806.3 783.3,808.0 783.8,809.3 784.3,811.0 784.8,812.9 785.3,814.2 785.8,816.4 786.3,817.8 786.8,819.2 787.3,820.2 787.8,820.6 788.3,822.4 788.8,824.0 789.3,824.6 789.8,824.8 790.3,826.6 790.8,828.1 791.3,828.5 791.8,830.4 792.3,832.2 792.8,833.4 793.3,834.7 793.8,836.8 794.3,838.6 794.8,840.5 795.3,842.8 795.8,844.9 796.3,847.0 796.8,849.6 797.3,852.3 797.8,855.1 798.3,858.2 798.8,859.9 799.3,864.1 799.8,867.8 800.3,871.4 800.8,871.9 801.3,877.8 801.8,880.9 802.3,884.7 802.8,887.1 803.3,889.7 803.8,891.4 804.3,894.0 804.8,897.1 805.3,899.0 805.8,899.4 806.3,901.1 806.8,901.8 807.3,901.8 807.8,902.9 808.3,903.4 808.8,903.7 809.3,904.2 809.8,904.0 810.3,904.4 810.8,904.6 811.3,904.6 811.8,904.3 812.3,904.5 812.8,904.3 813.3,904.5 813.8,904.4 814.3,902.4 814.8,904.1 815.3,904.2 815.8,904.6 816.3,904.6 816.8,905.5 817.3,906.0 817.8,906.4 818.3,908.0 818.8,908.3 819.3,909.3 819.8,910.4 820.3,911.5 820.8,913.4 821.3,915.8 821.8,917.6 822.3,920.7 822.8,923.9 823.3,927.5 823.8,932.0 824.3,935.6 824.8,939.1 825.3,942.6 825.8,945.8 826.3,949.5 826.8,952.7 827.3,956.2 827.8,961.3 828.3,965.7 828.8,971.1 829.3,976.5 829.8,980.2 830.3,984.2 830.8,987.3 831.3,988.6 831.8,991.9 832.3,994.4 832.8,996.3 833.3,997.5 833.8,997.6 834.3,995.3 834.8,993.6 835.3,991.5 835.8,988.7 836.3,986.3 836.8,983.6 837.3,980.9 837.8,978.4 838.3,975.2 838.8,972.0 839.3,969.2 839.8,964.7 840.3,960.9 840.8,956.2 841.3,952.0 841.8,947.8 842.3,943.5 842.8,939.8 843.3,935.4 843.8,931.8 844.3,928.3 844.8,924.7 845.3,921.1 845.8,918.3 846.3,915.4 846.8,912.7 847.3,909.6 847.8,907.4 848.3,905.6 848.8,903.3 849.3,901.8 849.8,900.0 850.3,897.6 850.8,897.1 851.3,895.8 851.8,894.6 852.3,893.3 852.8,892.0 853.3,890.7 853.8,888.9 854.3,889.8 854.8,889.4 855.3,889.3 855.8,889.0 856.3,889.8 856.8,889.8 857.3,890.9 857.8,891.1 858.3,891.5 858.8,892.7 859.3,893.3 859.8,894.9 860.3,896.5 860.8,898.5 861.3,897.9 861.8,901.9 862.3,904.2 862.8,906.7 863.3,908.9 863.8,911.8 864.3,912.8 864.8,916.5 865.3,919.5 865.8,921.5 866.3,924.3 866.8,927.1 867.3,929.8 867.8,932.2 868.3,934.3 868.8,936.2 869.3,940.0 869.8,940.7 870.3,944.5 870.8,947.1 871.3,948.7 871.8,951.4 872.3,953.4 872.8,955.4 873.3,956.8 873.8,958.5 874.3,959.8 874.8,961.2 875.3,962.8 875.8,964.9 876.3,966.1 876.8,967.3 877.3,968.6 877.8,970.6 878.3,972.0 878.8,973.4 879.3,974.4 879.8,975.4 880.3,975.8 880.8,977.9 881.3,979.5 881.8,980.7 882.3,982.2 882.8,983.9 883.3,984.9 883.8,986.7 884.3,987.8 884.8,990.0 885.3,991.8 885.8,994.0 886.3,996.8 886.8,999.4 887.3,1002.2 887.8,1004.5 888.3,1003.2 888.8,1009.6 889.3,1011.7 889.8,1014.3 890.3,1016.5 890.8,1018.7 891.3,1020.6 891.8,1022.4 892.3,1024.2 892.8,1024.9 893.3,1027.1 893.8,1028.1 894.3,1028.4 894.8,1029.6 895.3,1029.7 895.8,1029.7 896.3,1029.4 896.8,1030.3 897.3,1030.6 897.8,1030.3 898.3,1030.6 898.8,1031.0 899.3,1030.0 899.8,1030.8 900.3,1026.4 900.8,1029.7 901.3,1029.2 901.8,1028.6 902.3,1028.7 902.8,1027.9 903.3,1028.2 903.8,1027.5 904.3,1028.7 904.8,1029.0 905.3,1029.7 905.8,1029.0 906.3,1030.3 906.8,1030.5 907.3,1031.1 907.8,1032.2 908.3,1033.0 908.8,1033.8 909.3,1035.3 909.8,1037.4 910.3,1039.9 910.8,1042.7 911.3,1044.6 911.8,1048.2 912.3,1050.2 912.8,1052.5 913.3,1054.1 913.8,1058.0 914.3,1061.5 914.8,1064.8 915.3,1068.0 915.8,1071.8 916.3,1075.4 916.8,1078.2 917.3,1080.0 917.8,1084.8 918.3,1088.4 918.8,1091.8 919.3,1095.8 919.8,1097.8 920.3,1098.7 920.8,1098.7 921.3,1096.0 921.8,1093.3 922.3,1095.5 922.8,1094.7 923.3,1092.9 923.8,1091.0 924.3,1088.6 924.8,1085.8 925.3,1083.0 925.8,1080.5 926.3,1077.1 926.8,1075.2 927.3,1073.2 927.8,1070.8 928.3,1068.2 928.8,1065.4 929.3,1059.6 929.8,1059.6 930.3,1056.0 930.8,1052.2 931.3,1048.8 931.8,1045.8 932.3,1042.0 932.8,1040.0 933.3,1037.4 933.8,1033.6 934.3,1031.7 934.8,1029.6 935.3,1027.0 935.8,1024.7 936.3,1023.3 936.8,1020.9 937.3,1019.5 937.8,1018.2 938.3,1016.4 938.8,1015.2 939.3,1014.0 939.8,1012.8 940.3,1011.6 940.8,1010.6 941.3,1009.7 941.8,1009.5 942.3,1008.4 942.8,1007.6 943.3,1007.5 943.8,1007.1 944.3,1005.4 944.8,1006.8 945.3,1008.0 945.8,1008.5 946.3,1009.4 946.8,1010.0 947.3,1011.1 947.8,1011.8 948.3,1013.1 948.8,1014.2 949.3,1016.3 949.8,1017.5 950.3,1019.1 950.8,1021.5 951.3,1023.0 951.8,1025.2 952.3,1027.5 952.8,1029.5 953.3,1032.2 953.8,1034.8 954.3,1037.7 954.8,1039.5 955.3,1042.7 955.8,1044.1 956.3,1046.1 956.8,1048.3 957.3,1049.8 957.8,1051.7 958.3,1053.8 958.8,1055.9 959.3,1057.5 959.8,1059.2 960.3,1061.2 960.8,1063.5 961.3,1064.8 961.8,1067.0 962.3,1069.2 962.8,1071.0 963.3,1072.9 963.8,1074.1 964.3,1075.7 964.8,1077.3 965.3,1078.8 965.8,1079.4 966.3,1080.2 966.8,1080.2 967.3,1083.3 967.8,1084.0 968.3,1085.7 968.8,1087.1 969.3,1087.8 969.8,1089.5 970.3,1090.4 970.8,1090.8 971.3,1092.0 971.8,1094.1 972.3,1095.6 972.8,1096.5 973.3,1098.6 973.8,1099.7 974.3,1101.6 974.8,1102.8 975.3,1104.5 975.8,1106.3 976.3,1107.9 976.8,1109.6 977.3,1111.9 977.8,1114.3 978.3,1116.5 978.8,1118.5 979.3,1120.9 979.8,1122.6 980.3,1124.1 980.8,1125.7 981.3,1127.3 981.8,1128.8 982.3,1129.4 982.8,1130.8 983.3,1132.0 983.8,1132.5 984.3,1133.9 984.8,1133.4 985.3,1135.4 985.8,1135.5 986.3,1136.3 986.8,1137.3 987.3,1137.9 987.8,1138.4 988.3,1138.9 988.8,1139.0 989.3,1139.6 989.8,1140.6 990.3,1139.6 990.8,1141.2 991.3,1142.0 991.8,1142.0 992.3,1142.7 992.8,1143.6 993.3,1143.7 993.8,1144.2 994.3,1144.6 994.8,1145.4 995.3,1145.8 995.8,1147.0 996.3,1148.1 996.8,1148.9 997.3,1150.8 997.8,1151.9 998.3,1153.5 998.8,1155.3 999.3,1156.9 999.8,1158.7 1000.3,1160.0 1000.8,1162.4 1001.3,1162.6 1001.8,1166.6 1002.3,1167.3 1002.8,1169.9 1003.3,1172.9 1003.8,1174.5 1004.3,1178.4 1004.8,1181.5 1005.3,1184.8 1005.8,1189.4 1006.3,1194.2 1006.8,1196.7 1007.3,1200.7 1007.8,1204.3 1008.3,1206.5 1008.8,1208.3 1009.3,1209.5 1009.8,1211.8 1010.3,1212.6 1010.8,1213.2 1011.3,1213.1 1011.8,1212.3 1012.3,1212.1 1012.8,1210.7 1013.3,1209.8 1013.8,1208.3 1014.3,1207.1 1014.8,1206.1 1015.3,1203.9 1015.8,1202.2 1016.3,1199.9 1016.8,1197.6 1017.3,1195.3 1017.8,1193.0 1018.3,1190.6 1018.8,1188.2 1019.3,1185.5 1019.8,1182.4 1020.3,1180.8 1020.8,1177.2 1021.3,1175.5 1021.8,1172.5 1022.3,1170.3 1022.8,1168.3 1023.3,1166.2 1023.8,1163.6 1024.3,1162.4 1024.8,1160.0 1025.3,1158.1 1025.8,1155.8 1026.3,1153.6 1026.8,1151.4 1027.3,1149.9 1027.8,1147.8 1028.3,1146.0 1028.8,1144.1 1029.3,1142.2 1029.8,1141.3 1030.3,1139.3 1030.8,1135.3 1031.3,1136.8 1031.8,1135.9 1032.3,1135.1 1032.8,1134.3 1033.3,1133.8 1033.8,1133.1 1034.3,1132.4 1034.8,1132.1 1035.3,1131.6 1035.8,1130.8 1036.3,1131.1 1036.8,1130.9 1037.3,1130.3 1037.8,1130.5 1038.3,1131.0 1038.8,1130.7 1039.3,1131.1 1039.8,1132.7 1040.3,1131.4 1040.8,1133.6 1041.3,1134.4 1041.8,1134.6 1042.3,1136.0 1042.8,1137.1 1043.3,1138.7 1043.8,1140.0 1044.3,1141.0 1044.8,1142.8 1045.3,1143.3 1045.8,1144.9 1046.3,1145.2 1046.8,1147.0 1047.3,1147.8 1047.8,1148.9 1048.3,1150.4 1048.8,1151.2 1049.3,1152.5 1049.8,1154.0 1050.3,1155.3 1050.8,1156.2 1051.3,1157.2 1051.8,1158.4 1052.3,1159.9 1052.8,1160.8 1053.3,1162.3 1053.8,1163.3 1054.3,1161.5 1054.8,1164.8 1055.3,1166.0 1055.8,1167.3 1056.3,1167.6 1056.8,1168.1 1057.3,1169.9 1057.8,1170.0 1058.3,1171.5 1058.8,1172.0 1059.3,1172.6 1059.8,1173.3 1060.3,1174.1 1060.8,1175.3 1061.3,1176.1 1061.8,1177.1 1062.3,1177.8 1062.8,1179.1 1063.3,1179.9 1063.8,1181.0 1064.3,1182.1 1064.8,1183.7 1065.3,1185.2 1065.8,1186.7 1066.3,1188.1 1066.8,1189.3 1067.3,1191.2 1067.8,1192.6 1068.3,1192.8 1068.8,1195.7 1069.3,1196.9 1069.8,1198.9 1070.3,1200.1 1070.8,1201.6 1071.3,1203.0 1071.8,1203.3 1072.3,1206.1 1072.8,1207.6 1073.3,1208.7 1073.8,1210.4 1074.3,1211.2 1074.8,1212.6 1075.3,1213.6 1075.8,1214.7 1076.3,1215.8 1076.8,1216.2 1077.3,1218.2 1077.8,1218.5 1078.3,1220.0 1078.8,1220.9 1079.3,1221.2 1079.8,1222.0 1080.3,1222.9 1080.8,1223.9 1081.3,1225.2 1081.8,1226.1 1082.3,1227.0 1082.8,1227.9 1083.3,1228.5 1083.8,1229.9 1084.3,1227.8 1084.8,1230.3 1085.3,1232.1 1085.8,1231.9 1086.3,1233.2 1086.8,1233.8 1087.3,1234.8 1087.8,1235.0 1088.3,1235.5 1088.8,1236.3 1089.3,1237.4 1089.8,1240.1 1090.3,1242.5 1090.8,1244.6 1091.3,1248.3 1091.8,1248.9 1092.3,1254.7 1092.8,1258.5 1093.3,1260.9 1093.8,1265.0 1094.3,1268.4 1094.8,1271.9 1095.3,1274.8 1095.8,1278.7 1096.3,1281.0 1096.8,1284.7 1097.3,1288.0 1097.8,1291.7 1098.3,1295.2 1098.8,1298.3 1099.3,1301.7 1099.8,1304.6 1100.3,1307.7 1100.8,1309.9 1101.3,1312.6 1101.8,1315.1 1102.3,1316.4 1102.8,1318.6 1103.3,1319.8 1103.8,1321.5 1104.3,1322.6 1104.8,1324.2 1105.3,1324.8 1105.8,1325.5 1106.3,1323.1 1106.8,1324.5 1107.3,1324.2 1107.8,1323.2 1108.3,1322.8 1108.8,1322.7 1109.3,1321.9 1109.8,1320.6 1110.3,1319.7 1110.8,1319.3 1111.3,1318.3 1111.8,1316.8 1112.3,1315.2 1112.8,1314.0 1113.3,1312.8 1113.8,1311.1 1114.3,1308.1 1114.8,1307.6 1115.3,1306.7 1115.8,1304.4 1116.3,1302.7 1116.8,1301.5 1117.3,1299.6 1117.8,1298.1 1118.3,1294.2 1118.8,1295.3 1119.3,1293.3 1119.8,1292.4 1120.3,1290.2 1120.8,1289.0 1121.3,1287.6 1121.8,1285.6 1122.3,1283.6 1122.8,1281.6 1123.3,1279.8 1123.8,1277.3 1124.3,1276.1 1124.8,1273.6 1125.3,1272.3 1125.8,1271.7 1126.3,1270.9 1126.8,1267.7 1127.3,1268.5 1127.8,1267.5 1128.3,1264.2 1128.8,1265.1 1129.3,1264.1 1129.8,1263.7 1130.3,1262.4 1130.8,1260.3 1131.3,1261.2 1131.8,1260.3 1132.3,1260.1 1132.8,1259.6 1133.3,1259.1 1133.8,1258.6 1134.3,1254.3 1134.8,1257.8 1135.3,1257.2 1135.8,1256.8 1136.3,1256.7 1136.8,1256.3 1137.3,1256.3 1137.8,1255.6 1138.3,1255.5 1138.8,1255.0 1139.3,1254.9 1139.8,1254.7 1140.3,1254.2 1140.8,1254.7 1141.3,1254.5 1141.8,1254.2 1142.3,1254.4 1142.8,1254.2 1143.3,1254.2 1143.8,1254.3 1144.3,1253.8 1144.8,1254.1 1145.3,1253.7 1145.8,1252.4 1146.3,1252.8 1146.8,1253.4 1147.3,1253.4 1147.8,1252.7 1148.3,1253.7 1148.8,1252.2 1149.3,1252.8 1149.8,1253.5 1150.3,1253.5 1150.8,1253.3 1151.3,1253.4 1151.8,1253.5 1152.3,1253.2 1152.8,1253.1 1153.3,1253.7 1153.8,1253.0 1154.3,1253.3 1154.8,1253.4 1155.3,1253.8 1155.8,1253.6 1156.3,1253.7 1156.8,1254.4 1157.3,1254.1 1157.8,1254.8 1158.3,1254.6 1158.8,1253.4 1159.3,1254.9 1159.8,1255.3 1160.3,1256.2 1160.8,1255.4 1161.3,1256.6 1161.8,1257.3 1162.3,1257.3 1162.8,1255.5 1163.3,1259.0 1163.8,1259.4 1164.3,1259.2 1164.8,1259.8 1165.3,1260.5 1165.8,1260.8 1166.3,1260.2 1166.8,1262.1 1167.3,1262.6 1167.8,1262.9 1168.3,1263.7 1168.8,1261.9 1169.3,1264.1 1169.8,1265.3 1170.3,1265.8 1170.8,1266.9 1171.3,1266.7 1171.8,1267.3 1172.3,1267.6 1172.8,1267.2 1173.3,1265.4 1173.8,1265.7 1174.3,1265.5 1174.8,1265.6 1175.3,1266.0 1175.8,1266.4 1176.3,1267.6 1176.8,1268.3 1177.3,1269.6 1177.8,1271.0 1178.3,1271.8 1178.8,1272.1 1179.3,1273.2 1179.8,1273.4 1180.3,1273.6 1180.8,1276.1 1181.3,1276.5 1181.8,1276.9 1182.3,1278.6 1182.8,1280.6 1183.3,1281.7 1183.8,1283.4 1184.3,1285.4 1184.8,1286.9 1185.3,1288.5 1185.8,1290.2 1186.3,1292.3 1186.8,1294.7 1187.3,1297.5 1187.8,1300.9 1188.3,1304.2 1188.8,1307.9 1189.3,1311.6 1189.8,1315.4 1190.3,1318.7 1190.8,1323.4 1191.3,1327.1 1191.8,1332.0 1192.3,1336.2 1192.8,1342.7 1193.3,1348.8 1193.8,1354.8 1194.3,1359.0 1194.8,1363.2 1195.3,1367.0 1195.8,1370.4 1196.3,1373.4 1196.8,1376.0 1197.3,1376.7 1197.8,1383.2 1198.3,1387.0 1198.8,1389.5 1199.3,1390.7 1199.8,1395.0 1200.3,1397.3 1200.8,1398.4 1201.3,1401.0 1201.8,1402.3 1202.3,1403.5 1202.8,1405.2 1203.3,1406.5 1203.8,1407.6 1204.3,1408.4 1204.8,1408.8 1205.3,1410.1 1205.8,1411.1 1206.3,1411.7 1206.8,1412.0 1207.3,1412.1 1207.8,1412.6 1208.3,1413.4 1208.8,1413.5 1209.3,1413.7 1209.8,1414.2 1210.3,1412.1 1210.8,1414.0 1211.3,1414.3 1211.8,1414.2 1212.3,1414.1 1212.8,1413.1 1213.3,1413.3 1213.8,1413.5 1214.3,1413.2 1214.8,1413.4 1215.3,1413.2 1215.8,1413.1 1216.3,1412.5 1216.8,1412.2 1217.3,1412.3 1217.8,1412.4 1218.3,1411.9 1218.8,1411.9 1219.3,1411.6 1219.8,1411.2 1220.3,1411.6 1220.8,1411.1 1221.3,1410.9 1221.8,1410.9 1222.3,1410.4 1222.8,1409.9 1223.3,1410.2 1223.8,1409.4 1224.3,1409.6 1224.8,1409.1 1225.3,1408.8 1225.8,1408.3 1226.3,1406.7 1226.8,1407.9 1227.3,1407.8 1227.8,1407.1 1228.3,1407.1 1228.8,1406.5 1229.3,1406.3 1229.8,1406.3 1230.3,1406.0 1230.8,1405.6 1231.3,1405.0 1231.8,1404.7 1232.3,1404.4 1232.8,1404.3 1233.3,1404.2 1233.8,1403.9 1234.3,1403.3 1234.8,1402.3 1235.3,1402.2 1235.8,1402.7 1236.3,1402.5 1236.8,1400.6 1237.3,1401.5 1237.8,1401.2 1238.3,1400.4 1238.8,1399.1 1239.3,1399.4 1239.8,1400.0 1240.3,1399.4 1240.8,1399.3 1241.3,1398.9 1241.8,1398.8 1242.3,1397.3 1242.8,1397.4 1243.3,1395.8 1243.8,1396.7 1244.3,1396.9 1244.8,1396.1 1245.3,1396.4 1245.8,1395.5 1246.3,1394.9 1246.8,1395.4 1247.3,1394.5 1247.8,1394.3 1248.3,1394.4 1248.8,1393.9 1249.3,1393.5 1249.8,1393.4 1250.3,1393.1 1250.8,1392.5 1251.3,1392.5 1251.8,1392.2 1252.3,1392.2 1252.8,1389.7 1253.3,1391.4 1253.8,1391.1 1254.3,1390.2 1254.8,1390.0 1255.3,1390.1 1255.8,1389.2 1256.3,1388.8 1256.8,1388.9 1257.3,1388.1 1257.8,1388.3 1258.3,1387.8 1258.8,1387.1 1259.3,1386.9 1259.8,1386.6 1260.3,1386.2 1260.8,1383.9 1261.3,1385.6 1261.8,1383.7 1262.3,1385.0 1262.8,1384.8 1263.3,1383.7 1263.8,1383.9 1264.3,1383.6 1264.8,1383.8 1265.3,1383.0 1265.8,1381.0 1266.3,1379.1 1266.8,1382.7 1267.3,1381.9 1267.8,1381.5 1268.3,1380.3 1268.8,1381.5 1269.3,1378.9 1269.8,1380.5 1270.3,1379.1 1270.8,1380.2 1271.3,1379.8 1271.8,1380.1 1272.3,1379.4 1272.8,1379.4 1273.3,1379.1 1273.8,1378.1 1274.3,1378.8 1274.8,1378.6 1275.3,1377.2 1275.8,1378.3 1276.3,1374.9 1276.8,1377.5 1277.3,1377.0 1277.8,1377.2 1278.3,1376.5 1278.8,1376.4 1279.3,1376.0 1279.8,1375.6 1280.3,1375.4 1280.8,1375.7 1281.3,1375.3 1281.8,1374.6 1282.3,1374.4 1282.8,1374.2 1283.3,1374.2 1283.8,1373.8 1284.3,1373.2 1284.8,1372.8 1285.3,1373.0 1285.8,1372.3 1286.3,1372.1 1286.8,1371.7 1287.3,1368.8 1287.8,1371.5 1288.3,1370.4 1288.8,1370.5 1289.3,1370.6 1289.8,1369.9 1290.3,1369.9 1290.8,1369.3 1291.3,1369.4 1291.8,1365.1 1292.3,1368.9 1292.8,1368.6 1293.3,1368.6 1293.8,1368.0 1294.3,1368.0 1294.8,1366.5 1295.3,1367.2 1295.8,1367.0 1296.3,1367.0 1296.8,1366.8 1297.3,1366.1 1297.8,1365.8 1298.3,1366.0 1298.8,1365.8 1299.3,1365.3 1299.8,1365.0 1300.3,1364.8 1300.8,1364.7 1301.3,1364.1 1301.8,1364.2 1302.3,1363.5 1302.8,1362.7 1303.3,1363.1 1303.8,1363.4 1304.3,1363.1 1304.8,1362.7 1305.3,1362.8 1305.8,1362.5 1306.3,1361.8 1306.8,1362.2 1307.3,1361.6 1307.8,1361.6 1308.3,1361.7 1308.8,1360.8 1309.3,1360.7 1309.8,1357.6 1310.3,1360.4 1310.8,1360.0 1311.3,1360.1 1311.8,1360.1 1312.3,1358.1 1312.8,1358.3 1313.3,1356.9 1313.8,1358.4 1314.3,1357.8 1314.8,1358.3 1315.3,1357.5 1315.8,1357.6 1316.3,1355.1 1316.8,1357.2 1317.3,1355.1 1317.8,1356.1 1318.3,1355.9 1318.8,1353.7 1319.3,1355.4 1319.8,1354.7 1320.3,1354.7 1320.8,1354.5 1321.3,1353.5 1321.8,1353.7 1322.3,1353.1 1322.8,1353.0 1323.3,1351.6 1323.8,1351.6 1324.3,1351.6 1324.8,1351.1 1325.3,1350.6 1325.8,1350.3 1326.3,1349.9 1326.8,1350.0 1327.3,1349.7 1327.8,1349.0 1328.3,1348.7 1328.8,1348.7 1329.3,1348.2 1329.8,1348.1 1330.3,1347.5 1330.8,1346.6 1331.3,1347.2 1331.8,1346.3 1332.3,1345.3 1332.8,1345.6 1333.3,1345.8 1333.8,1345.2 1334.3,1344.7 1334.8,1344.7 1335.3,1344.1 1335.8,1343.3 1336.3,1343.9 1336.8,1343.0 1337.3,1342.9 1337.8,1342.9 1338.3,1342.2 1338.8,1342.0 1339.3,1341.5 1339.8,1341.9 1340.3,1341.0 1340.8,1341.1 1341.3,1340.7 1341.8,1339.4 1342.3,1339.7 1342.8,1339.7 1343.3,1339.5 1343.8,1339.3 1344.3,1338.9 1344.8,1338.4 1345.3,1338.3 1345.8,1336.9 1346.3,1337.5 1346.8,1337.2 1347.3,1337.2 1347.8,1335.9 1348.3,1336.2 1348.8,1336.3 1349.3,1336.1 1349.8,1335.1 1350.3,1335.4 1350.8,1334.8 1351.3,1334.5 1351.8,1334.5 1352.3,1333.5 1352.8,1333.4 1353.3,1333.5 1353.8,1333.3 1354.3,1332.5 1354.8,1332.8 1355.3,1332.2 1355.8,1332.1 1356.3,1331.5 1356.8,1331.2 1357.3,1331.2 1357.8,1330.5 1358.3,1330.4 1358.8,1330.5 1359.3,1329.8 1359.8,1329.6 1360.3,1329.1 1360.8,1329.3 1361.3,1328.5 1361.8,1328.3 1362.3,1328.3 1362.8,1327.6 1363.3,1327.9 1363.8,1327.5 1364.3,1327.2 1364.8,1326.7 1365.3,1326.4 1365.8,1326.5 1366.3,1326.2 1366.8,1326.1 1367.3,1325.3 1367.8,1325.3 1368.3,1325.0 1368.8,1324.3 1369.3,1324.4 1369.8,1324.1 1370.3,1323.9 1370.8,1323.7 1371.3,1323.4 1371.8,1323.3 1372.3,1322.7 1372.8,1321.7 1373.3,1322.5 1373.8,1322.0 1374.3,1321.8 1374.8,1321.4 1375.3,1319.7 1375.8,1321.2 1376.3,1320.7 1376.8,1320.3 1377.3,1320.3 1377.8,1320.2 1378.3,1319.8 1378.8,1319.5 1379.3,1319.3 1379.8,1319.2 1380.3,1318.8 1380.8,1318.6 1381.3,1318.6 1381.8,1318.3 1382.3,1318.0 1382.8,1317.2 1383.3,1317.2 1383.8,1316.8 1384.3,1316.8 1384.8,1316.4 1385.3,1316.0 1385.8,1315.9 1386.3,1315.3 1386.8,1315.5 1387.3,1315.1 1387.8,1315.0 1388.3,1314.6 1388.8,1314.7 1389.3,1313.9 1389.8,1314.0 1390.3,1313.4 1390.8,1311.6 1391.3,1313.3 1391.8,1312.7 1392.3,1312.6 1392.8,1312.1 1393.3,1312.0 1393.8,1311.9 1394.3,1311.1 1394.8,1311.1 1395.3,1310.9 1395.8,1310.4 1396.3,1310.3 1396.8,1310.1 1397.3,1309.2 1397.8,1308.7 1398.3,1308.4 1398.8,1308.7 1399.3,1308.6 1399.8,1308.2 1400.3,1308.6 1400.8,1307.9 1401.3,1307.6 1401.8,1307.4 1402.3,1307.1 1402.8,1307.2 1403.3,1306.5 1403.8,1306.5 1404.3,1306.5 1404.8,1306.1 1405.3,1305.5 1405.8,1305.5 1406.3,1304.5 1406.8,1305.0 1407.3,1304.5 1407.8,1304.2 1408.3,1304.3 1408.8,1303.3 1409.3,1302.0 1409.8,1303.3 1410.3,1302.9 1410.8,1302.1 1411.3,1302.1 1411.8,1301.9 1412.3,1301.5 1412.8,1301.8 1413.3,1301.3 1413.8,1300.9 1414.3,1299.3 1414.8,1300.7 1415.3,1300.0 1415.8,1299.5 1416.3,1299.5 1416.8,1299.2 1417.3,1299.1 1417.8,1298.6 1418.3,1298.5 1418.8,1297.9 1419.3,1298.1 1419.8,1297.4 1420.3,1297.3 1420.8,1296.8 1421.3,1296.7 1421.8,1295.5 1422.3,1296.3 1422.8,1295.6 1423.3,1295.8 1423.8,1295.4 1424.3,1291.8 1424.8,1294.3 1425.3,1294.5 1425.8,1293.9 1426.3,1293.6 1426.8,1293.7 1427.3,1293.1 1427.8,1292.9 1428.3,1292.3 1428.8,1292.2 1429.3,1291.9 1429.8,1291.9 1430.3,1291.4 1430.8,1290.8 1431.3,1290.3 1431.8,1290.3 1432.3,1290.3 1432.8,1290.0 1433.3,1289.7 1433.8,1288.7 1434.3,1288.7 1434.8,1287.6 1435.3,1288.1 1435.8,1286.5 1436.3,1286.3 1436.8,1287.0 1437.3,1286.9 1437.8,1285.1 1438.3,1286.0 1438.8,1285.6 1439.3,1285.9 1439.8,1285.3 1440.3,1283.2 1440.8,1284.8 1441.3,1284.2 1441.8,1284.2 1442.3,1283.4 1442.8,1283.3 1443.3,1283.3 1443.8,1282.5 1444.3,1282.2 1444.8,1282.2 1445.3,1279.0 1445.8,1281.7 1446.3,1281.2 1446.8,1281.0 1447.3,1280.7 1447.8,1280.4 1448.3,1280.0 1448.8,1279.5 1449.3,1279.4 1449.8,1279.1 1450.3,1278.4 1450.8,1278.4 1451.3,1278.0 1451.8,1277.3 1452.3,1277.5 1452.8,1276.8 1453.3,1275.9 1453.8,1275.0 1454.3,1276.2 1454.8,1276.0 1455.3,1275.5 1455.8,1275.6 1456.3,1274.9 1456.8,1274.6 1457.3,1274.5 1457.8,1274.3 1458.3,1274.1 1458.8,1273.7 1459.3,1272.9 1459.8,1271.0 1460.3,1272.6 1460.8,1271.8 1461.3,1271.8 1461.8,1271.7 1462.3,1271.4 1462.8,1270.8 1463.3,1270.9 1463.8,1270.6 1464.3,1270.6 1464.8,1269.9 1465.3,1267.9 1465.8,1268.7 1466.3,1269.0 1466.8,1268.5 1467.3,1268.4 1467.8,1268.4 1468.3,1268.1 1468.8,1267.4 1469.3,1265.4 1469.8,1266.4 1470.3,1267.1 1470.8,1266.6 1471.3,1266.3 1471.8,1266.3 1472.3,1265.4 1472.8,1265.5 1473.3,1264.8 1473.8,1264.9 1474.3,1264.6 1474.8,1263.9 1475.3,1264.0 1475.8,1263.4 1476.3,1263.3 1476.8,1263.1 1477.3,1262.8 1477.8,1262.7 1478.3,1262.3 1478.8,1262.2 1479.3,1261.7 1479.8,1261.5 1480.3,1261.2 1480.8,1260.8 1481.3,1260.1 1481.8,1260.6 1482.3,1259.8 1482.8,1259.6 1483.3,1259.2 1483.8,1258.9 1484.3,1258.8 1484.8,1258.5 1485.3,1258.5 1485.8,1256.9 1486.3,1257.3 1486.8,1257.4 1487.3,1257.3 1487.8,1256.5 1488.3,1256.3 1488.8,1256.3 1489.3,1255.5 1489.8,1255.6 1490.3,1255.7 1490.8,1255.4 1491.3,1255.1 1491.8,1252.1 1492.3,1254.4 1492.8,1253.5 1493.3,1253.7 1493.8,1252.4 1494.3,1249.5 1494.8,1252.8 1495.3,1251.9 1495.8,1252.7 1496.3,1252.1 1496.8,1252.2 1497.3,1251.8 1497.8,1251.5 1498.3,1250.8 1498.8,1250.9 1499.3,1250.5 1499.8,1250.4 1500.3,1250.1 1500.8,1249.7 1501.3,1249.6 1501.8,1249.0 1502.3,1249.2 1502.8,1248.8 1503.3,1245.5 1503.8,1247.8 1504.3,1247.8 1504.8,1247.0 1505.3,1247.3 1505.8,1246.9 1506.3,1246.5 1506.8,1246.1 1507.3,1245.6 1507.8,1244.2 1508.3,1245.6 1508.8,1245.6 1509.3,1245.4 1509.8,1244.7 1510.3,1244.9 1510.8,1244.1 1511.3,1244.0 1511.8,1243.4 1512.3,1243.3 1512.8,1243.4 1513.3,1243.0 1513.8,1242.8 1514.3,1242.2 1514.8,1242.0 1515.3,1242.1 1515.8,1241.8 1516.3,1241.6 1516.8,1239.5 1517.3,1240.6 1517.8,1239.4 1518.3,1240.4 1518.8,1239.8 1519.3,1239.3 1519.8,1239.3 1520.3,1239.0 1520.8,1238.5 1521.3,1237.7 1521.8,1238.2 1522.3,1238.1 1522.8,1237.5 1523.3,1237.1 1523.8,1236.8 1524.3,1236.8 1524.8,1236.1 1525.3,1235.9 1525.8,1235.5 1526.3,1235.4 1526.8,1235.4 1527.3,1234.6 1527.8,1234.9 1528.3,1234.1 1528.8,1234.0 1529.3,1233.6 1529.8,1233.6 1530.3,1232.8 1530.8,1233.0 1531.3,1232.5 1531.8,1232.4 1532.3,1232.1 1532.8,1231.7 1533.3,1231.1 1533.8,1229.1 1534.3,1229.8 1534.8,1230.2 1535.3,1230.3 1535.8,1229.7 1536.3,1229.5 1536.8,1225.8 1537.3,1229.2 1537.8,1228.0 1538.3,1228.1 1538.8,1228.4 1539.3,1224.0 1539.8,1227.6 1540.3,1227.5 1540.8,1227.2 1541.3,1226.5 1541.8,1221.3 1542.3,1226.0 1542.8,1224.6 1543.3,1225.3 1543.8,1225.3 1544.3,1225.1 1544.8,1224.5 1545.3,1224.8 1545.8,1221.6 1546.3,1222.7 1546.8,1223.7 1547.3,1223.1 1547.8,1222.9 1548.3,1221.9 1548.8,1222.3 1549.3,1222.3 1549.8,1221.8 1550.3,1221.8 1550.8,1221.5 1551.3,1221.2 1551.8,1221.2 1552.3,1220.6 1552.8,1220.2 1553.3,1220.4 1553.8,1219.8 1554.3,1219.7 1554.8,1219.6 1555.3,1219.2 1555.8,1219.0 1556.3,1219.1 1556.8,1218.8 1557.3,1218.6 1557.8,1218.2 1558.3,1218.1 1558.8,1217.5 1559.3,1215.9 1559.8,1216.8 1560.3,1216.4 1560.8,1215.5 1561.3,1216.5 1561.8,1215.8 1562.3,1215.9 1562.8,1215.8 1563.3,1215.4 1563.8,1211.2 1564.3,1214.8 1564.8,1214.3 1565.3,1214.2 1565.8,1214.0 1566.3,1214.3 1566.8,1213.9 1567.3,1213.3 1567.8,1213.5 1568.3,1211.6 1568.8,1212.9 1569.3,1212.7 1569.8,1212.1 1570.3,1211.9 1570.8,1211.8 1571.3,1211.5 1571.8,1211.4 1572.3,1210.9 1572.8,1210.2 1573.3,1207.7 1573.8,1208.9 1574.3,1209.6 1574.8,1210.3 1575.3,1209.6 1575.8,1209.8 1576.3,1207.8 1576.8,1208.9 1577.3,1208.6 1577.8,1208.7 1578.3,1208.2 1578.8,1208.2 1579.3,1207.8 1579.8,1206.2 1580.3,1207.9 1580.8,1207.5 1581.3,1206.9 1581.8,1204.8 1582.3,1207.0 1582.8,1206.3 1583.3,1206.6 1583.8,1206.2 1584.3,1205.7 1584.8,1205.4 1585.3,1205.1 1585.8,1205.5 1586.3,1204.9 1586.8,1204.8 1587.3,1203.8 1587.8,1204.2 1588.3,1203.4 1588.8,1203.9 1589.3,1204.1 1589.8,1203.2 1590.3,1203.0 1590.8,1203.3 1591.3,1203.3 1591.8,1202.6 1592.3,1200.9 1592.8,1202.1 1593.3,1201.8 1593.8,1201.6 1594.3,1201.6 1594.8,1198.1 1595.3,1201.0 1595.8,1201.3 1596.3,1200.1 1596.8,1198.5 1597.3,1200.6 1597.8,1199.9 1598.3,1199.9 1598.8,1199.9 1599.3,1199.6 1599.8,1199.3 1600.3,1198.8 1600.8,1198.8 1601.3,1198.4 1601.8,1198.1 1602.3,1198.2 1602.8,1197.7 1603.3,1197.3 1603.8,1197.3 1604.3,1197.4 1604.8,1197.1 1605.3,1194.2 1605.8,1196.5 1606.3,1195.9 1606.8,1195.8 1607.3,1192.4 1607.8,1195.5 1608.3,1195.1 1608.8,1193.5 1609.3,1194.4 1609.8,1194.2 1610.3,1192.9 1610.8,1194.0 1611.3,1192.7 1611.8,1190.0 1612.3,1192.9 1612.8,1192.4 1613.3,1192.6 1613.8,1192.4 1614.3,1191.8 1614.8,1191.6 1615.3,1187.1 1615.8,1190.9 1616.3,1190.3 1616.8,1190.6 1617.3,1189.7 1617.8,1190.5 1618.3,1190.2 1618.8,1189.6 1619.3,1189.7 1619.8,1188.9 1620.3,1187.3 1620.8,1188.5 1621.3,1188.8 1621.8,1188.2 1622.3,1188.4 1622.8,1186.7 1623.3,1187.7 1623.8,1187.1 1624.3,1187.5 1624.8,1186.8 1625.3,1186.9 1625.8,1186.3 1626.3,1186.3 1626.8,1185.9 1627.3,1186.0 1627.8,1185.0 1628.3,1185.6 1628.8,1184.7 1629.3,1184.7 1629.8,1185.2 1630.3,1184.8 1630.8,1183.4 1631.3,1184.4 1631.8,1183.9 1632.3,1184.3 1632.8,1183.9 1633.3,1182.8 1633.8,1183.0 1634.3,1183.3 1634.8,1183.3 1635.3,1183.1 1635.8,1182.4 1636.3,1182.5 1636.8,1182.7 1637.3,1182.4 1637.8,1181.7 1638.3,1180.0 1638.8,1181.5 1639.3,1181.2 1639.8,1181.5 1640.3,1180.8 1640.8,1180.6 1641.3,1180.7 1641.8,1180.3 1642.3,1180.0 1642.8,1180.2 1643.3,1179.7 1643.8,1180.0 1644.3,1179.6 1644.8,1178.5 1645.3,1179.3 1645.8,1179.3 1646.3,1179.0 1646.8,1178.9 1647.3,1176.6 1647.8,1178.3 1648.3,1178.5 1648.8,1178.3 1649.3,1177.6 1649.8,1177.9 1650.3,1177.2 1650.8,1177.5 1651.3,1176.9 1651.8,1177.0 1652.3,1176.9 1652.8,1176.8 1653.3,1176.5 1653.8,1175.1 1654.3,1176.0 1654.8,1175.5 1655.3,1175.1 1655.8,1175.8 1656.3,1175.0 1656.8,1174.9 1657.3,1172.7 1657.8,1174.9 1658.3,1174.6 1658.8,1174.4 1659.3,1174.3 1659.8,1174.0 1660.3,1173.5 1660.8,1173.2 1661.3,1173.5 1661.8,1172.9 1662.3,1173.1 1662.8,1173.0 1663.3,1172.6 1663.8,1172.4 1664.3,1172.3 1664.8,1171.8 1665.3,1172.1 1665.8,1170.1 1666.3,1171.4 1666.8,1171.4 1667.3,1170.9 1667.8,1171.2 1668.3,1169.5 1668.8,1170.8 1669.3,1169.8 1669.8,1170.0 1670.3,1169.7 1670.8,1167.9 1671.3,1169.1 1671.8,1169.8 1672.3,1169.6 1672.8,1168.8 1673.3,1168.9 1673.8,1168.7 1674.3,1168.4 1674.8,1168.0 1675.3,1168.4 1675.8,1167.1 1676.3,1167.4 1676.8,1167.3 1677.3,1167.5 1677.8,1167.1 1678.3,1166.7 1678.8,1166.9 1679.3,1166.7 1679.8,1166.2 1680.3,1166.5 1680.8,1165.9 1681.3,1166.0 1681.8,1165.1 1682.3,1165.5 1682.8,1164.8 1683.3,1165.4 1683.8,1165.3 1684.3,1164.9 1684.8,1164.3 1685.3,1164.7 1685.8,1163.4 1686.3,1163.8 1686.8,1163.6 1687.3,1163.3 1687.8,1163.6 1688.3,1163.4 1688.8,1163.4 1689.3,1161.9 1689.8,1162.4 1690.3,1162.7 1690.8,1161.7 1691.3,1162.1 1691.8,1161.5 1692.3,1161.7 1692.8,1161.6 1693.3,1161.4 1693.8,1161.0 1694.3,1160.0 1694.8,1161.1 1695.3,1160.8 1695.8,1160.4 1696.3,1157.9 1696.8,1160.0 1697.3,1160.3 1697.8,1159.5 1698.3,1160.0 1698.8,1159.7 1699.3,1159.1 1699.8,1158.0 1700.3,1157.7 1700.8,1158.5 1701.3,1158.6 1701.8,1158.7 1702.3,1157.9 1702.8,1158.3 1703.3,1157.8 1703.8,1157.5 1704.3,1157.3 1704.8,1155.6 1705.3,1157.1 1705.8,1157.0 1706.3,1156.8 1706.8,1156.5 1707.3,1156.4 1707.8,1155.4 1708.3,1155.7 1708.8,1156.1 1709.3,1155.7 1709.8,1155.6 1710.3,1155.3 1710.8,1154.0 1711.3,1154.7 1711.8,1155.0 1712.3,1154.4 1712.8,1154.1 1713.3,1154.3 1713.8,1154.3 1714.3,1154.0 1714.8,1154.0 1715.3,1153.6 1715.8,1153.6 1716.3,1153.4 1716.8,1152.5 1717.3,1153.3 1717.8,1152.9 1718.3,1152.5 1718.8,1152.7 1719.3,1152.3 1719.8,1152.5 1720.3,1152.5 1720.8,1151.7 1721.3,1149.6 1721.8,1151.1 1722.3,1151.3 1722.8,1151.5 1723.3,1151.6 1723.8,1151.2 1724.3,1150.9 1724.8,1150.8 1725.3,1150.3 1725.8,1148.5 1726.3,1150.4 1726.8,1148.7 1727.3,1150.1 1727.8,1150.0 1728.3,1149.8 1728.8,1149.5 1729.3,1149.0 1729.8,1149.3 1730.3,1149.5 1730.8,1149.5 1731.3,1149.0 1731.8,1148.9 1732.3,1149.0 1732.8,1148.7 1733.3,1148.8 1733.8,1148.6 1734.3,1148.1 1734.8,1148.4 1735.3,1147.7 1735.8,1147.7 1736.3,1147.6 1736.8,1147.8 1737.3,1147.3 1737.8,1146.8 1738.3,1146.8 1738.8,1147.3 1739.3,1147.3 1739.8,1145.8 1740.3,1146.7 1740.8,1145.7 1741.3,1146.2 1741.8,1146.4 1742.3,1146.2 1742.8,1145.9 1743.3,1146.1 1743.8,1145.8 1744.3,1145.5 1744.8,1145.4 1745.3,1145.5 1745.8,1145.5 1746.3,1145.4 1746.8,1145.3 1747.3,1144.8 1747.8,1145.0 1748.3,1144.5 1748.8,1144.5 1749.3,1144.6 1749.8,1143.9 1750.3,1143.2 1750.8,1144.1 1751.3,1143.2 1751.8,1143.8 1752.3,1143.6 1752.8,1142.6 1753.3,1143.0 1753.8,1143.4 1754.3,1142.5 1754.8,1142.9 1755.3,1143.0 1755.8,1142.6 1756.3,1139.3 1756.8,1141.7 1757.3,1142.1 1757.8,1141.9 1758.3,1142.0 1758.8,1141.1 1759.3,1141.7 1759.8,1140.4 1760.3,1140.4 1760.8,1141.0 1761.3,1141.0 1761.8,1139.8 1762.3,1140.9 1762.8,1140.7 1763.3,1140.3 1763.8,1140.4 1764.3,1137.5 1764.8,1139.9 1765.3,1139.9 1765.8,1139.7 1766.3,1139.2 1766.8,1139.6 1767.3,1138.6 1767.8,1139.0 1768.3,1138.6 1768.8,1138.6 1769.3,1138.7 1769.8,1138.8 1770.3,1138.1 1770.8,1138.2 1771.3,1138.0 1771.8,1138.0 1772.3,1138.0 1772.8,1135.6 1773.3,1137.5 1773.8,1137.2 1774.3,1137.5 1774.8,1137.2 1775.3,1137.3 1775.8,1135.8 1776.3,1136.9 1776.8,1136.6 1777.3,1136.4 1777.8,1136.3 1778.3,1136.2 1778.8,1135.5 1779.3,1136.2 1779.8,1135.0 1780.3,1135.6 1780.8,1135.5 1781.3,1135.3 1781.8,1135.1 1782.3,1134.5 1782.8,1134.9 1783.3,1134.7 1783.8,1134.9 1784.3,1133.5 1784.8,1134.3 1785.3,1134.1 1785.8,1133.9 1786.3,1133.9 1786.8,1134.1 1787.3,1132.7 1787.8,1133.8 1788.3,1133.4 1788.8,1133.8 1789.3,1133.2 1789.8,1133.6 1790.3,1132.7 1790.8,1133.1 1791.3,1132.7 1791.8,1133.0 1792.3,1132.4 1792.8,1132.4 1793.3,1132.8 1793.8,1132.7 1794.3,1132.6 1794.8,1132.1 1795.3,1132.0 1795.8,1132.3 1796.3,1130.8 1796.8,1131.7 1797.3,1131.3 1797.8,1130.9 1798.3,1131.3 1798.8,1131.2 1799.3,1130.0 1799.8,1130.8 1800.3,1130.5 1800.8,1129.4 1801.3,1131.1 1801.8,1130.4 1802.3,1130.0 1802.8,1130.1 1803.3,1130.6 1803.8,1128.6 1804.3,1130.5 1804.8,1130.0 1805.3,1129.7 1805.8,1130.1 1806.3,1129.4 1806.8,1128.4 1807.3,1129.4 1807.8,1129.7 1808.3,1129.0 1808.8,1128.8 1809.3,1128.8 1809.8,1128.6 1810.3,1128.8 1810.8,1128.6 1811.3,1127.9 1811.8,1128.6 1812.3,1128.3 1812.8,1128.5 1813.3,1128.4 1813.8,1127.8 1814.3,1128.0 1814.8,1127.5 1815.3,1127.2 1815.8,1127.7 1816.3,1127.2 1816.8,1127.5 1817.3,1127.7 1817.8,1127.0 1818.3,1127.2 1818.8,1126.9 1819.3,1127.2 1819.8,1127.1 1820.3,1127.1 1820.8,1126.5 1821.3,1126.9 1821.8,1126.4 1822.3,1126.3 1822.8,1126.0 1823.3,1125.1 1823.8,1126.2 1824.3,1125.8 1824.8,1124.6 1825.3,1126.0 1825.8,1125.9 1826.3,1125.7 1826.8,1124.9 1827.3,1125.6 1827.8,1124.7 1828.3,1125.5 1828.8,1124.9 1829.3,1125.1 1829.8,1124.3 1830.3,1124.8 1830.8,1124.3 1831.3,1124.1 1831.8,1124.8 1832.3,1124.6 1832.8,1124.3 1833.3,1123.8 1833.8,1124.5 1834.3,1124.3 1834.8,1123.0 1835.3,1123.9 1835.8,1122.6 1836.3,1123.8 1836.8,1123.6 1837.3,1123.6 1837.8,1123.6 1838.3,1123.2 1838.8,1123.0 1839.3,1123.3 1839.8,1121.3 1840.3,1122.2 1840.8,1122.6 1841.3,1123.0 1841.8,1122.6 1842.3,1122.2 1842.8,1122.3 1843.3,1122.2 1843.8,1122.4 1844.3,1121.9 1844.8,1121.7 1845.3,1122.2 1845.8,1122.1 1846.3,1121.5 1846.8,1121.5 1847.3,1121.1 1847.8,1121.2 1848.3,1120.8 1848.8,1120.0 1849.3,1121.2 1849.8,1120.6 1850.3,1119.0 1850.8,1120.6 1851.3,1120.8 1851.8,1120.6 1852.3,1120.6 1852.8,1120.0 1853.3,1117.7 1853.8,1119.7 1854.3,1119.7 1854.8,1119.6 1855.3,1119.5 1855.8,1119.6 1856.3,1119.5 1856.8,1119.4 1857.3,1119.3 1857.8,1118.9 1858.3,1119.1 1858.8,1119.2 1859.3,1119.0 1859.8,1118.4 1860.3,1118.4 1860.8,1118.3 1861.3,1117.3 1861.8,1118.3 1862.3,1117.3 1862.8,1117.7 1863.3,1117.2 1863.8,1117.7 1864.3,1117.8 1864.8,1117.6 1865.3,1117.5 1865.8,1116.1 1866.3,1117.2 1866.8,1116.8 1867.3,1116.6 1867.8,1117.0 1868.3,1116.4 1868.8,1116.4 1869.3,1116.4 1869.8,1115.7 1870.3,1116.3 1870.8,1115.8 1871.3,1115.9 1871.8,1114.7 1872.3,1115.7 1872.8,1115.5 1873.3,1115.7 1873.8,1115.0 1874.3,1114.8 1874.8,1115.1 1875.3,1114.6 1875.8,1115.0 1876.3,1114.3 1876.8,1114.1 1877.3,1114.3 1877.8,1114.5 1878.3,1113.0 1878.8,1114.3 1879.3,1114.0 1879.8,1113.8 1880.3,1113.7 1880.8,1113.1 1881.3,1113.1 1881.8,1113.3 1882.3,1113.0 1882.8,1112.7 1883.3,1112.8 1883.8,1112.4 1884.3,1112.8 1884.3,1117.6 1883.8,1117.7 1883.3,1118.2 1882.8,1117.4 1882.3,1118.5 1881.8,1118.1 1881.3,1117.9 1880.8,1118.4 1880.3,1119.1 1879.8,1118.8 1879.3,1119.7 1878.8,1121.3 1878.3,1118.9 1877.8,1119.3 1877.3,1119.4 1876.8,1119.3 1876.3,1119.6 1875.8,1119.4 1875.3,1119.3 1874.8,1119.9 1874.3,1120.0 1873.8,1119.9 1873.3,1120.5 1872.8,1120.2 1872.3,1120.9 1871.8,1120.9 1871.3,1120.8 1870.8,1120.8 1870.3,1121.5 1869.8,1121.2 1869.3,1121.4 1868.8,1120.9 1868.3,1121.1 1867.8,1121.5 1867.3,1121.9 1866.8,1121.7 1866.3,1122.0 1865.8,1122.3 1865.3,1122.3 1864.8,1121.9 1864.3,1122.3 1863.8,1122.8 1863.3,1122.5 1862.8,1122.4 1862.3,1123.1 1861.8,1123.2 1861.3,1123.1 1860.8,1123.6 1860.3,1123.1 1859.8,1123.7 1859.3,1124.0 1858.8,1123.9 1858.3,1123.6 1857.8,1123.6 1857.3,1124.2 1856.8,1123.8 1856.3,1125.4 1855.8,1124.7 1855.3,1124.5 1854.8,1124.9 1854.3,1125.2 1853.8,1124.5 1853.3,1124.9 1852.8,1124.8 1852.3,1125.1 1851.8,1125.7 1851.3,1125.3 1850.8,1125.8 1850.3,1125.2 1849.8,1125.9 1849.3,1126.1 1848.8,1125.6 1848.3,1125.7 1847.8,1126.3 1847.3,1125.9 1846.8,1126.0 1846.3,1126.5 1845.8,1126.6 1845.3,1126.6 1844.8,1126.6 1844.3,1127.1 1843.8,1126.8 1843.3,1127.2 1842.8,1127.1 1842.3,1127.6 1841.8,1127.5 1841.3,1128.7 1840.8,1127.9 1840.3,1128.0 1839.8,1127.7 1839.3,1128.2 1838.8,1127.8 1838.3,1128.7 1837.8,1128.0 1837.3,1128.5 1836.8,1128.5 1836.3,1128.7 1835.8,1128.7 1835.3,1128.5 1834.8,1129.0 1834.3,1128.5 1833.8,1129.3 1833.3,1128.9 1832.8,1129.4 1832.3,1133.3 1831.8,1129.1 1831.3,1129.3 1830.8,1129.6 1830.3,1130.3 1829.8,1129.6 1829.3,1130.1 1828.8,1129.9 1828.3,1130.0 1827.8,1131.2 1827.3,1130.2 1826.8,1130.5 1826.3,1130.1 1825.8,1130.5 1825.3,1130.7 1824.8,1131.0 1824.3,1132.1 1823.8,1131.1 1823.3,1133.5 1822.8,1130.8 1822.3,1133.2 1821.8,1131.5 1821.3,1132.2 1820.8,1133.9 1820.3,1132.6 1819.8,1131.6 1819.3,1133.3 1818.8,1132.0 1818.3,1132.2 1817.8,1132.0 1817.3,1131.8 1816.8,1132.4 1816.3,1132.1 1815.8,1132.5 1815.3,1132.5 1814.8,1132.4 1814.3,1135.4 1813.8,1133.0 1813.3,1132.6 1812.8,1133.0 1812.3,1134.3 1811.8,1133.3 1811.3,1133.2 1810.8,1133.4 1810.3,1135.1 1809.8,1133.8 1809.3,1133.8 1808.8,1134.0 1808.3,1134.0 1807.8,1134.4 1807.3,1134.6 1806.8,1134.1 1806.3,1134.6 1805.8,1134.6 1805.3,1134.4 1804.8,1134.8 1804.3,1135.1 1803.8,1135.0 1803.3,1136.1 1802.8,1134.9 1802.3,1135.9 1801.8,1135.5 1801.3,1135.7 1800.8,1135.9 1800.3,1135.9 1799.8,1136.4 1799.3,1136.1 1798.8,1136.3 1798.3,1136.2 1797.8,1136.9 1797.3,1136.7 1796.8,1136.7 1796.3,1136.6 1795.8,1136.9 1795.3,1137.8 1794.8,1137.3 1794.3,1137.6 1793.8,1137.4 1793.3,1137.2 1792.8,1137.4 1792.3,1138.4 1791.8,1137.8 1791.3,1137.5 1790.8,1138.4 1790.3,1138.3 1789.8,1138.2 1789.3,1138.5 1788.8,1138.1 1788.3,1138.8 1787.8,1141.0 1787.3,1138.6 1786.8,1138.7 1786.3,1139.0 1785.8,1139.0 1785.3,1139.3 1784.8,1139.3 1784.3,1139.7 1783.8,1139.6 1783.3,1140.0 1782.8,1139.8 1782.3,1140.1 1781.8,1141.0 1781.3,1140.0 1780.8,1140.2 1780.3,1140.8 1779.8,1140.6 1779.3,1141.5 1778.8,1141.0 1778.3,1144.7 1777.8,1141.5 1777.3,1141.5 1776.8,1142.1 1776.3,1141.4 1775.8,1141.8 1775.3,1141.6 1774.8,1142.1 1774.3,1141.8 1773.8,1142.2 1773.3,1142.3 1772.8,1142.1 1772.3,1145.2 1771.8,1142.5 1771.3,1143.0 1770.8,1142.9 1770.3,1143.0 1769.8,1143.3 1769.3,1143.7 1768.8,1143.6 1768.3,1144.1 1767.8,1143.8 1767.3,1144.3 1766.8,1144.4 1766.3,1144.6 1765.8,1144.3 1765.3,1144.9 1764.8,1144.7 1764.3,1147.0 1763.8,1144.8 1763.3,1145.5 1762.8,1146.2 1762.3,1147.2 1761.8,1145.3 1761.3,1145.9 1760.8,1146.0 1760.3,1146.2 1759.8,1146.1 1759.3,1146.2 1758.8,1146.6 1758.3,1146.6 1757.8,1146.9 1757.3,1146.9 1756.8,1147.2 1756.3,1147.4 1755.8,1147.6 1755.3,1150.5 1754.8,1147.5 1754.3,1148.0 1753.8,1147.8 1753.3,1147.8 1752.8,1149.3 1752.3,1148.1 1751.8,1148.2 1751.3,1148.3 1750.8,1149.2 1750.3,1148.8 1749.8,1149.2 1749.3,1149.4 1748.8,1149.3 1748.3,1149.2 1747.8,1149.4 1747.3,1149.6 1746.8,1149.6 1746.3,1150.6 1745.8,1150.9 1745.3,1150.2 1744.8,1150.2 1744.3,1150.3 1743.8,1150.7 1743.3,1150.8 1742.8,1151.0 1742.3,1150.7 1741.8,1151.5 1741.3,1151.7 1740.8,1151.7 1740.3,1151.2 1739.8,1151.4 1739.3,1151.6 1738.8,1152.0 1738.3,1151.9 1737.8,1152.0 1737.3,1152.1 1736.8,1152.8 1736.3,1153.4 1735.8,1152.7 1735.3,1152.7 1734.8,1153.6 1734.3,1154.2 1733.8,1152.9 1733.3,1153.4 1732.8,1155.7 1732.3,1153.6 1731.8,1156.4 1731.3,1153.8 1730.8,1154.3 1730.3,1154.0 1729.8,1154.5 1729.3,1154.4 1728.8,1154.4 1728.3,1157.5 1727.8,1155.1 1727.3,1155.2 1726.8,1155.1 1726.3,1155.4 1725.8,1155.5 1725.3,1155.4 1724.8,1155.6 1724.3,1155.8 1723.8,1155.7 1723.3,1156.2 1722.8,1156.4 1722.3,1156.4 1721.8,1159.6 1721.3,1156.8 1720.8,1156.8 1720.3,1156.7 1719.8,1156.9 1719.3,1157.3 1718.8,1159.1 1718.3,1157.5 1717.8,1157.4 1717.3,1158.2 1716.8,1158.2 1716.3,1158.3 1715.8,1159.9 1715.3,1158.3 1714.8,1158.5 1714.3,1158.6 1713.8,1159.1 1713.3,1159.1 1712.8,1159.4 1712.3,1159.5 1711.8,1159.9 1711.3,1160.0 1710.8,1159.7 1710.3,1160.3 1709.8,1160.7 1709.3,1160.8 1708.8,1160.8 1708.3,1161.2 1707.8,1160.8 1707.3,1161.5 1706.8,1161.3 1706.3,1162.3 1705.8,1161.8 1705.3,1162.0 1704.8,1163.5 1704.3,1163.1 1703.8,1162.6 1703.3,1162.4 1702.8,1162.6 1702.3,1163.1 1701.8,1163.5 1701.3,1163.4 1700.8,1164.1 1700.3,1163.6 1699.8,1163.8 1699.3,1163.9 1698.8,1164.8 1698.3,1164.2 1697.8,1164.3 1697.3,1164.9 1696.8,1164.8 1696.3,1164.9 1695.8,1165.7 1695.3,1165.4 1694.8,1166.0 1694.3,1166.2 1693.8,1166.1 1693.3,1166.5 1692.8,1167.5 1692.3,1166.3 1691.8,1166.6 1691.3,1167.1 1690.8,1167.9 1690.3,1167.5 1689.8,1167.8 1689.3,1167.7 1688.8,1168.2 1688.3,1168.6 1687.8,1168.8 1687.3,1168.5 1686.8,1168.6 1686.3,1168.9 1685.8,1168.9 1685.3,1169.2 1684.8,1169.5 1684.3,1170.5 1683.8,1169.6 1683.3,1170.3 1682.8,1170.4 1682.3,1171.4 1681.8,1170.7 1681.3,1170.4 1680.8,1171.1 1680.3,1171.2 1679.8,1171.8 1679.3,1171.3 1678.8,1172.2 1678.3,1172.0 1677.8,1171.7 1677.3,1172.1 1676.8,1172.7 1676.3,1173.7 1675.8,1172.5 1675.3,1172.6 1674.8,1173.0 1674.3,1175.3 1673.8,1173.4 1673.3,1174.0 1672.8,1173.6 1672.3,1175.0 1671.8,1174.7 1671.3,1174.9 1670.8,1175.6 1670.3,1174.8 1669.8,1175.3 1669.3,1175.2 1668.8,1175.4 1668.3,1175.7 1667.8,1176.6 1667.3,1176.2 1666.8,1176.0 1666.3,1176.4 1665.8,1176.2 1665.3,1177.7 1664.8,1178.0 1664.3,1177.3 1663.8,1177.1 1663.3,1178.4 1662.8,1177.9 1662.3,1177.8 1661.8,1178.1 1661.3,1178.4 1660.8,1178.6 1660.3,1178.4 1659.8,1178.5 1659.3,1179.3 1658.8,1179.4 1658.3,1179.6 1657.8,1179.5 1657.3,1179.9 1656.8,1179.5 1656.3,1179.9 1655.8,1180.0 1655.3,1180.2 1654.8,1181.4 1654.3,1181.0 1653.8,1180.8 1653.3,1181.0 1652.8,1181.0 1652.3,1181.6 1651.8,1181.4 1651.3,1181.9 1650.8,1182.2 1650.3,1182.1 1649.8,1182.7 1649.3,1182.6 1648.8,1183.0 1648.3,1183.3 1647.8,1183.3 1647.3,1183.4 1646.8,1183.3 1646.3,1184.0 1645.8,1184.0 1645.3,1184.9 1644.8,1185.5 1644.3,1184.7 1643.8,1184.4 1643.3,1186.0 1642.8,1185.2 1642.3,1185.2 1641.8,1185.3 1641.3,1185.4 1640.8,1185.6 1640.3,1186.1 1639.8,1186.0 1639.3,1185.9 1638.8,1186.2 1638.3,1187.7 1637.8,1187.0 1637.3,1187.2 1636.8,1187.4 1636.3,1187.3 1635.8,1187.3 1635.3,1188.2 1634.8,1187.6 1634.3,1189.0 1633.8,1188.6 1633.3,1188.8 1632.8,1190.7 1632.3,1189.1 1631.8,1188.9 1631.3,1189.6 1630.8,1189.7 1630.3,1189.9 1629.8,1189.7 1629.3,1189.8 1628.8,1190.0 1628.3,1190.7 1627.8,1190.9 1627.3,1190.7 1626.8,1191.6 1626.3,1191.5 1625.8,1192.5 1625.3,1191.9 1624.8,1191.8 1624.3,1192.2 1623.8,1192.5 1623.3,1192.4 1622.8,1192.9 1622.3,1193.1 1621.8,1193.4 1621.3,1193.0 1620.8,1193.6 1620.3,1194.0 1619.8,1193.7 1619.3,1194.4 1618.8,1194.4 1618.3,1194.8 1617.8,1195.3 1617.3,1194.9 1616.8,1195.1 1616.3,1197.6 1615.8,1195.9 1615.3,1195.9 1614.8,1196.4 1614.3,1196.9 1613.8,1196.8 1613.3,1197.0 1612.8,1197.5 1612.3,1198.9 1611.8,1197.9 1611.3,1198.4 1610.8,1199.0 1610.3,1199.3 1609.8,1199.2 1609.3,1199.2 1608.8,1199.9 1608.3,1199.8 1607.8,1199.8 1607.3,1200.8 1606.8,1200.7 1606.3,1200.7 1605.8,1201.2 1605.3,1204.9 1604.8,1201.7 1604.3,1201.9 1603.8,1201.9 1603.3,1202.7 1602.8,1202.8 1602.3,1203.0 1601.8,1203.4 1601.3,1205.1 1600.8,1203.7 1600.3,1203.6 1599.8,1204.0 1599.3,1204.6 1598.8,1204.3 1598.3,1204.7 1597.8,1205.9 1597.3,1205.4 1596.8,1206.6 1596.3,1206.6 1595.8,1207.8 1595.3,1206.0 1594.8,1206.1 1594.3,1206.2 1593.8,1206.8 1593.3,1207.4 1592.8,1207.2 1592.3,1207.6 1591.8,1207.9 1591.3,1207.9 1590.8,1208.8 1590.3,1208.2 1589.8,1208.4 1589.3,1208.4 1588.8,1209.2 1588.3,1209.1 1587.8,1209.4 1587.3,1209.7 1586.8,1209.9 1586.3,1210.0 1585.8,1209.8 1585.3,1210.8 1584.8,1210.5 1584.3,1210.9 1583.8,1210.7 1583.3,1213.8 1582.8,1211.5 1582.3,1211.4 1581.8,1211.5 1581.3,1211.7 1580.8,1212.4 1580.3,1212.1 1579.8,1212.9 1579.3,1212.5 1578.8,1213.4 1578.3,1213.2 1577.8,1214.0 1577.3,1215.6 1576.8,1213.7 1576.3,1214.2 1575.8,1214.8 1575.3,1215.1 1574.8,1214.8 1574.3,1216.0 1573.8,1219.1 1573.3,1215.5 1572.8,1216.4 1572.3,1215.9 1571.8,1217.1 1571.3,1216.1 1570.8,1216.5 1570.3,1217.2 1569.8,1217.2 1569.3,1217.2 1568.8,1217.4 1568.3,1218.6 1567.8,1218.2 1567.3,1218.0 1566.8,1221.1 1566.3,1219.1 1565.8,1218.7 1565.3,1219.3 1564.8,1219.4 1564.3,1219.6 1563.8,1219.9 1563.3,1220.3 1562.8,1221.3 1562.3,1220.6 1561.8,1221.4 1561.3,1221.1 1560.8,1222.2 1560.3,1221.3 1559.8,1222.1 1559.3,1222.1 1558.8,1222.5 1558.3,1222.3 1557.8,1222.8 1557.3,1223.7 1556.8,1223.8 1556.3,1226.8 1555.8,1224.9 1555.3,1224.0 1554.8,1224.2 1554.3,1224.9 1553.8,1224.7 1553.3,1225.3 1552.8,1225.5 1552.3,1225.8 1551.8,1225.9 1551.3,1226.1 1550.8,1226.4 1550.3,1226.5 1549.8,1227.5 1549.3,1227.2 1548.8,1227.2 1548.3,1227.5 1547.8,1228.1 1547.3,1228.1 1546.8,1228.3 1546.3,1228.6 1545.8,1229.1 1545.3,1228.9 1544.8,1229.7 1544.3,1230.0 1543.8,1230.3 1543.3,1230.0 1542.8,1230.9 1542.3,1231.2 1541.8,1231.5 1541.3,1232.9 1540.8,1232.0 1540.3,1232.1 1539.8,1232.5 1539.3,1232.5 1538.8,1233.2 1538.3,1234.3 1537.8,1233.9 1537.3,1233.6 1536.8,1233.8 1536.3,1234.6 1535.8,1234.8 1535.3,1235.2 1534.8,1235.4 1534.3,1235.7 1533.8,1236.2 1533.3,1238.0 1532.8,1236.2 1532.3,1236.9 1531.8,1236.7 1531.3,1237.2 1530.8,1238.0 1530.3,1238.1 1529.8,1238.5 1529.3,1238.2 1528.8,1238.8 1528.3,1239.3 1527.8,1241.6 1527.3,1239.4 1526.8,1240.3 1526.3,1240.5 1525.8,1240.3 1525.3,1241.0 1524.8,1241.5 1524.3,1241.7 1523.8,1241.8 1523.3,1242.1 1522.8,1242.3 1522.3,1242.7 1521.8,1243.8 1521.3,1243.6 1520.8,1243.9 1520.3,1244.1 1519.8,1244.3 1519.3,1244.6 1518.8,1244.8 1518.3,1245.0 1517.8,1245.2 1517.3,1245.6 1516.8,1246.1 1516.3,1247.3 1515.8,1246.4 1515.3,1246.4 1514.8,1246.7 1514.3,1247.5 1513.8,1247.5 1513.3,1247.7 1512.8,1248.2 1512.3,1248.1 1511.8,1248.4 1511.3,1249.1 1510.8,1248.9 1510.3,1250.0 1509.8,1249.3 1509.3,1249.9 1508.8,1250.4 1508.3,1250.8 1507.8,1251.2 1507.3,1250.8 1506.8,1251.6 1506.3,1251.4 1505.8,1253.8 1505.3,1251.8 1504.8,1252.2 1504.3,1252.8 1503.8,1253.1 1503.3,1253.1 1502.8,1253.9 1502.3,1254.0 1501.8,1254.1 1501.3,1254.4 1500.8,1258.6 1500.3,1254.8 1499.8,1256.0 1499.3,1255.0 1498.8,1255.8 1498.3,1256.1 1497.8,1255.9 1497.3,1256.4 1496.8,1256.6 1496.3,1256.9 1495.8,1257.2 1495.3,1257.6 1494.8,1257.8 1494.3,1258.5 1493.8,1258.3 1493.3,1261.8 1492.8,1258.7 1492.3,1259.3 1491.8,1259.9 1491.3,1259.8 1490.8,1259.7 1490.3,1260.2 1489.8,1261.3 1489.3,1261.1 1488.8,1261.7 1488.3,1261.5 1487.8,1261.5 1487.3,1261.8 1486.8,1262.6 1486.3,1262.3 1485.8,1262.9 1485.3,1262.8 1484.8,1263.1 1484.3,1263.7 1483.8,1264.4 1483.3,1264.1 1482.8,1264.3 1482.3,1264.5 1481.8,1265.4 1481.3,1265.4 1480.8,1265.8 1480.3,1266.0 1479.8,1266.4 1479.3,1266.6 1478.8,1268.9 1478.3,1266.9 1477.8,1267.2 1477.3,1268.1 1476.8,1268.1 1476.3,1268.5 1475.8,1268.7 1475.3,1269.6 1474.8,1269.6 1474.3,1269.3 1473.8,1269.4 1473.3,1270.1 1472.8,1270.5 1472.3,1270.4 1471.8,1270.9 1471.3,1270.7 1470.8,1271.3 1470.3,1271.4 1469.8,1272.0 1469.3,1272.5 1468.8,1272.2 1468.3,1273.1 1467.8,1272.9 1467.3,1273.2 1466.8,1273.6 1466.3,1274.0 1465.8,1274.0 1465.3,1274.8 1464.8,1275.1 1464.3,1274.8 1463.8,1275.1 1463.3,1275.9 1462.8,1275.6 1462.3,1276.4 1461.8,1276.8 1461.3,1276.6 1460.8,1276.8 1460.3,1277.7 1459.8,1277.8 1459.3,1277.7 1458.8,1278.5 1458.3,1278.6 1457.8,1278.9 1457.3,1279.4 1456.8,1279.6 1456.3,1280.1 1455.8,1280.1 1455.3,1280.1 1454.8,1280.5 1454.3,1280.9 1453.8,1281.4 1453.3,1281.6 1452.8,1282.2 1452.3,1281.9 1451.8,1282.5 1451.3,1283.1 1450.8,1283.3 1450.3,1284.1 1449.8,1283.6 1449.3,1284.9 1448.8,1284.7 1448.3,1284.4 1447.8,1284.7 1447.3,1285.6 1446.8,1285.9 1446.3,1286.1 1445.8,1286.8 1445.3,1286.7 1444.8,1286.9 1444.3,1287.2 1443.8,1288.1 1443.3,1287.5 1442.8,1288.1 1442.3,1288.5 1441.8,1289.2 1441.3,1289.7 1440.8,1289.1 1440.3,1289.7 1439.8,1291.7 1439.3,1290.7 1438.8,1291.0 1438.3,1290.8 1437.8,1293.0 1437.3,1292.2 1436.8,1292.3 1436.3,1292.1 1435.8,1292.4 1435.3,1293.2 1434.8,1293.7 1434.3,1293.4 1433.8,1294.0 1433.3,1294.1 1432.8,1295.8 1432.3,1295.1 1431.8,1296.8 1431.3,1296.2 1430.8,1296.3 1430.3,1295.9 1429.8,1296.2 1429.3,1296.9 1428.8,1297.1 1428.3,1297.5 1427.8,1298.3 1427.3,1297.9 1426.8,1298.1 1426.3,1298.4 1425.8,1300.5 1425.3,1299.7 1424.8,1299.7 1424.3,1299.8 1423.8,1299.8 1423.3,1300.4 1422.8,1300.9 1422.3,1301.2 1421.8,1301.3 1421.3,1301.7 1420.8,1301.5 1420.3,1302.2 1419.8,1302.4 1419.3,1302.5 1418.8,1302.7 1418.3,1303.3 1417.8,1304.0 1417.3,1303.7 1416.8,1304.0 1416.3,1304.1 1415.8,1304.4 1415.3,1304.9 1414.8,1305.4 1414.3,1305.6 1413.8,1306.2 1413.3,1305.7 1412.8,1306.3 1412.3,1306.5 1411.8,1306.9 1411.3,1307.8 1410.8,1307.7 1410.3,1307.8 1409.8,1307.9 1409.3,1308.1 1408.8,1308.7 1408.3,1308.9 1407.8,1308.8 1407.3,1309.2 1406.8,1309.5 1406.3,1310.1 1405.8,1310.3 1405.3,1310.1 1404.8,1310.4 1404.3,1310.7 1403.8,1310.9 1403.3,1311.8 1402.8,1311.5 1402.3,1312.3 1401.8,1312.0 1401.3,1312.5 1400.8,1313.1 1400.3,1314.2 1399.8,1314.6 1399.3,1313.5 1398.8,1313.8 1398.3,1314.4 1397.8,1314.7 1397.3,1314.5 1396.8,1314.9 1396.3,1316.7 1395.8,1315.3 1395.3,1315.5 1394.8,1316.0 1394.3,1316.5 1393.8,1316.6 1393.3,1316.7 1392.8,1317.2 1392.3,1317.3 1391.8,1317.8 1391.3,1318.1 1390.8,1318.2 1390.3,1318.4 1389.8,1319.1 1389.3,1318.9 1388.8,1319.6 1388.3,1319.3 1387.8,1319.7 1387.3,1319.7 1386.8,1320.5 1386.3,1320.7 1385.8,1320.5 1385.3,1321.4 1384.8,1321.6 1384.3,1323.9 1383.8,1321.8 1383.3,1323.5 1382.8,1322.7 1382.3,1322.5 1381.8,1322.6 1381.3,1322.9 1380.8,1323.2 1380.3,1323.6 1379.8,1323.9 1379.3,1324.1 1378.8,1324.4 1378.3,1324.5 1377.8,1324.5 1377.3,1327.9 1376.8,1325.7 1376.3,1325.5 1375.8,1325.9 1375.3,1326.4 1374.8,1326.8 1374.3,1326.4 1373.8,1326.8 1373.3,1326.8 1372.8,1327.3 1372.3,1327.7 1371.8,1330.7 1371.3,1328.2 1370.8,1328.4 1370.3,1328.8 1369.8,1329.2 1369.3,1329.0 1368.8,1329.6 1368.3,1330.3 1367.8,1330.4 1367.3,1330.4 1366.8,1330.4 1366.3,1330.8 1365.8,1330.9 1365.3,1331.2 1364.8,1334.3 1364.3,1332.5 1363.8,1332.5 1363.3,1332.4 1362.8,1332.7 1362.3,1332.8 1361.8,1333.6 1361.3,1333.3 1360.8,1334.1 1360.3,1333.9 1359.8,1334.4 1359.3,1334.7 1358.8,1334.9 1358.3,1335.1 1357.8,1335.7 1357.3,1335.7 1356.8,1336.2 1356.3,1336.6 1355.8,1337.1 1355.3,1337.4 1354.8,1337.5 1354.3,1337.4 1353.8,1338.2 1353.3,1338.4 1352.8,1338.4 1352.3,1338.7 1351.8,1338.9 1351.3,1339.6 1350.8,1339.7 1350.3,1340.4 1349.8,1340.5 1349.3,1340.8 1348.8,1341.0 1348.3,1341.2 1347.8,1341.4 1347.3,1341.5 1346.8,1343.6 1346.3,1343.5 1345.8,1342.6 1345.3,1343.2 1344.8,1343.6 1344.3,1343.7 1343.8,1344.1 1343.3,1344.0 1342.8,1344.7 1342.3,1345.1 1341.8,1345.7 1341.3,1345.5 1340.8,1345.4 1340.3,1346.2 1339.8,1346.0 1339.3,1346.6 1338.8,1347.2 1338.3,1347.4 1337.8,1347.6 1337.3,1348.2 1336.8,1348.5 1336.3,1348.7 1335.8,1348.6 1335.3,1349.1 1334.8,1349.4 1334.3,1349.6 1333.8,1350.5 1333.3,1350.7 1332.8,1351.0 1332.3,1351.4 1331.8,1354.7 1331.3,1351.4 1330.8,1352.3 1330.3,1352.4 1329.8,1352.7 1329.3,1353.1 1328.8,1353.1 1328.3,1353.5 1327.8,1354.2 1327.3,1354.5 1326.8,1354.7 1326.3,1355.6 1325.8,1355.6 1325.3,1355.8 1324.8,1356.0 1324.3,1356.2 1323.8,1357.0 1323.3,1357.1 1322.8,1357.2 1322.3,1358.0 1321.8,1358.0 1321.3,1358.4 1320.8,1358.8 1320.3,1359.4 1319.8,1359.7 1319.3,1360.0 1318.8,1360.4 1318.3,1360.5 1317.8,1360.9 1317.3,1361.2 1316.8,1361.7 1316.3,1361.7 1315.8,1362.5 1315.3,1365.5 1314.8,1362.6 1314.3,1363.3 1313.8,1363.2 1313.3,1364.0 1312.8,1364.4 1312.3,1364.3 1311.8,1364.3 1311.3,1365.2 1310.8,1364.9 1310.3,1365.4 1309.8,1365.4 1309.3,1365.7 1308.8,1366.9 1308.3,1365.9 1307.8,1366.5 1307.3,1366.8 1306.8,1367.1 1306.3,1367.4 1305.8,1367.5 1305.3,1367.3 1304.8,1367.3 1304.3,1371.0 1303.8,1368.1 1303.3,1367.8 1302.8,1368.1 1302.3,1368.8 1301.8,1368.9 1301.3,1369.3 1300.8,1372.9 1300.3,1369.7 1299.8,1371.0 1299.3,1369.8 1298.8,1370.1 1298.3,1371.4 1297.8,1370.8 1297.3,1371.4 1296.8,1371.5 1296.3,1371.5 1295.8,1374.2 1295.3,1372.4 1294.8,1372.4 1294.3,1372.8 1293.8,1373.1 1293.3,1373.1 1292.8,1373.3 1292.3,1373.4 1291.8,1373.6 1291.3,1373.9 1290.8,1374.3 1290.3,1375.2 1289.8,1374.9 1289.3,1376.1 1288.8,1375.7 1288.3,1376.0 1287.8,1376.4 1287.3,1376.1 1286.8,1376.4 1286.3,1377.0 1285.8,1377.8 1285.3,1377.5 1284.8,1377.9 1284.3,1378.2 1283.8,1378.5 1283.3,1379.1 1282.8,1379.2 1282.3,1379.8 1281.8,1379.9 1281.3,1379.8 1280.8,1381.8 1280.3,1380.8 1279.8,1381.1 1279.3,1381.3 1278.8,1381.5 1278.3,1381.6 1277.8,1381.9 1277.3,1381.7 1276.8,1382.9 1276.3,1382.3 1275.8,1383.0 1275.3,1383.1 1274.8,1382.9 1274.3,1383.9 1273.8,1384.0 1273.3,1385.5 1272.8,1384.0 1272.3,1384.6 1271.8,1384.4 1271.3,1385.1 1270.8,1384.9 1270.3,1385.7 1269.8,1385.7 1269.3,1386.2 1268.8,1385.9 1268.3,1386.5 1267.8,1387.4 1267.3,1386.8 1266.8,1388.3 1266.3,1387.7 1265.8,1387.4 1265.3,1388.2 1264.8,1388.5 1264.3,1388.8 1263.8,1388.8 1263.3,1389.1 1262.8,1389.6 1262.3,1390.2 1261.8,1391.2 1261.3,1390.2 1260.8,1390.6 1260.3,1391.2 1259.8,1391.6 1259.3,1392.0 1258.8,1393.3 1258.3,1394.9 1257.8,1392.6 1257.3,1393.5 1256.8,1393.8 1256.3,1394.2 1255.8,1394.6 1255.3,1394.7 1254.8,1395.6 1254.3,1395.8 1253.8,1396.2 1253.3,1398.0 1252.8,1396.6 1252.3,1396.5 1251.8,1397.3 1251.3,1397.5 1250.8,1397.8 1250.3,1397.7 1249.8,1399.0 1249.3,1398.7 1248.8,1399.1 1248.3,1399.1 1247.8,1399.7 1247.3,1399.7 1246.8,1400.3 1246.3,1400.4 1245.8,1400.3 1245.3,1401.0 1244.8,1401.0 1244.3,1401.5 1243.8,1401.6 1243.3,1402.4 1242.8,1403.0 1242.3,1402.9 1241.8,1403.6 1241.3,1403.6 1240.8,1405.6 1240.3,1404.3 1239.8,1404.7 1239.3,1404.9 1238.8,1405.8 1238.3,1405.8 1237.8,1406.6 1237.3,1406.4 1236.8,1406.7 1236.3,1406.8 1235.8,1407.5 1235.3,1407.6 1234.8,1415.2 1234.3,1408.2 1233.8,1408.8 1233.3,1408.6 1232.8,1409.7 1232.3,1409.1 1231.8,1409.6 1231.3,1410.2 1230.8,1411.6 1230.3,1410.6 1229.8,1410.6 1229.3,1411.5 1228.8,1411.7 1228.3,1411.5 1227.8,1412.2 1227.3,1412.7 1226.8,1412.8 1226.3,1412.8 1225.8,1413.3 1225.3,1413.5 1224.8,1414.1 1224.3,1414.5 1223.8,1414.3 1223.3,1414.7 1222.8,1415.3 1222.3,1414.9 1221.8,1415.3 1221.3,1416.2 1220.8,1415.5 1220.3,1418.0 1219.8,1416.2 1219.3,1417.1 1218.8,1417.6 1218.3,1416.8 1217.8,1417.1 1217.3,1417.4 1216.8,1417.4 1216.3,1417.6 1215.8,1417.4 1215.3,1417.5 1214.8,1417.7 1214.3,1419.9 1213.8,1418.3 1213.3,1423.4 1212.8,1420.4 1212.3,1420.0 1211.8,1418.7 1211.3,1419.2 1210.8,1418.9 1210.3,1418.7 1209.8,1419.1 1209.3,1419.9 1208.8,1418.7 1208.3,1417.8 1207.8,1417.4 1207.3,1417.2 1206.8,1417.0 1206.3,1416.0 1205.8,1415.9 1205.3,1414.9 1204.8,1414.4 1204.3,1413.8 1203.8,1412.3 1203.3,1414.5 1202.8,1410.3 1202.3,1408.7 1201.8,1407.3 1201.3,1405.5 1200.8,1403.7 1200.3,1401.5 1199.8,1399.6 1199.3,1397.3 1198.8,1394.5 1198.3,1391.3 1197.8,1388.1 1197.3,1384.9 1196.8,1381.0 1196.3,1377.9 1195.8,1375.3 1195.3,1372.9 1194.8,1368.6 1194.3,1364.2 1193.8,1359.5 1193.3,1353.9 1192.8,1349.5 1192.3,1341.0 1191.8,1337.3 1191.3,1332.4 1190.8,1327.7 1190.3,1323.9 1189.8,1321.2 1189.3,1316.2 1188.8,1312.3 1188.3,1309.2 1187.8,1305.2 1187.3,1302.3 1186.8,1300.9 1186.3,1297.7 1185.8,1295.3 1185.3,1293.3 1184.8,1291.9 1184.3,1290.2 1183.8,1288.6 1183.3,1286.5 1182.8,1285.0 1182.3,1283.7 1181.8,1282.5 1181.3,1281.9 1180.8,1281.1 1180.3,1281.4 1179.8,1278.9 1179.3,1278.2 1178.8,1277.1 1178.3,1278.8 1177.8,1275.7 1177.3,1274.4 1176.8,1273.1 1176.3,1272.3 1175.8,1271.1 1175.3,1273.0 1174.8,1270.1 1174.3,1269.9 1173.8,1271.6 1173.3,1271.1 1172.8,1272.8 1172.3,1272.9 1171.8,1272.9 1171.3,1271.7 1170.8,1271.8 1170.3,1270.5 1169.8,1270.4 1169.3,1270.4 1168.8,1268.8 1168.3,1268.1 1167.8,1268.2 1167.3,1267.3 1166.8,1267.1 1166.3,1266.2 1165.8,1266.1 1165.3,1265.4 1164.8,1265.1 1164.3,1264.7 1163.8,1263.9 1163.3,1263.6 1162.8,1263.1 1162.3,1263.8 1161.8,1262.3 1161.3,1261.7 1160.8,1260.8 1160.3,1260.9 1159.8,1260.4 1159.3,1259.8 1158.8,1260.0 1158.3,1259.4 1157.8,1259.8 1157.3,1259.2 1156.8,1259.1 1156.3,1261.8 1155.8,1258.4 1155.3,1259.9 1154.8,1258.4 1154.3,1258.2 1153.8,1258.3 1153.3,1258.1 1152.8,1257.9 1152.3,1259.1 1151.8,1257.8 1151.3,1258.0 1150.8,1260.7 1150.3,1257.9 1149.8,1258.5 1149.3,1257.9 1148.8,1258.5 1148.3,1258.1 1147.8,1258.3 1147.3,1258.4 1146.8,1258.1 1146.3,1258.5 1145.8,1258.4 1145.3,1258.2 1144.8,1259.7 1144.3,1260.5 1143.8,1258.5 1143.3,1258.7 1142.8,1259.3 1142.3,1259.2 1141.8,1259.2 1141.3,1259.6 1140.8,1259.4 1140.3,1259.6 1139.8,1259.8 1139.3,1260.2 1138.8,1260.2 1138.3,1260.5 1137.8,1260.6 1137.3,1260.9 1136.8,1261.1 1136.3,1261.4 1135.8,1262.0 1135.3,1262.7 1134.8,1262.6 1134.3,1263.1 1133.8,1263.2 1133.3,1264.0 1132.8,1264.2 1132.3,1264.5 1131.8,1265.3 1131.3,1265.8 1130.8,1268.5 1130.3,1267.4 1129.8,1268.5 1129.3,1269.0 1128.8,1270.8 1128.3,1271.2 1127.8,1272.5 1127.3,1272.9 1126.8,1274.1 1126.3,1275.9 1125.8,1277.0 1125.3,1278.5 1124.8,1279.6 1124.3,1281.1 1123.8,1282.7 1123.3,1285.0 1122.8,1286.9 1122.3,1288.7 1121.8,1290.6 1121.3,1292.6 1120.8,1294.1 1120.3,1295.4 1119.8,1297.0 1119.3,1300.0 1118.8,1301.2 1118.3,1301.5 1117.8,1302.8 1117.3,1304.5 1116.8,1306.0 1116.3,1307.4 1115.8,1309.7 1115.3,1311.3 1114.8,1312.9 1114.3,1314.8 1113.8,1316.9 1113.3,1317.8 1112.8,1318.9 1112.3,1320.4 1111.8,1321.9 1111.3,1322.5 1110.8,1323.5 1110.3,1324.8 1109.8,1325.6 1109.3,1326.9 1108.8,1328.0 1108.3,1329.6 1107.8,1328.8 1107.3,1329.3 1106.8,1331.5 1106.3,1329.8 1105.8,1329.7 1105.3,1330.2 1104.8,1329.0 1104.3,1327.6 1103.8,1326.5 1103.3,1324.9 1102.8,1324.8 1102.3,1321.4 1101.8,1319.3 1101.3,1318.6 1100.8,1315.1 1100.3,1313.9 1099.8,1309.8 1099.3,1306.8 1098.8,1303.6 1098.3,1299.9 1097.8,1296.5 1097.3,1292.9 1096.8,1291.8 1096.3,1286.4 1095.8,1283.1 1095.3,1279.8 1094.8,1277.3 1094.3,1274.1 1093.8,1270.2 1093.3,1266.4 1092.8,1263.1 1092.3,1259.9 1091.8,1256.4 1091.3,1253.0 1090.8,1250.2 1090.3,1246.9 1089.8,1244.2 1089.3,1242.6 1088.8,1241.2 1088.3,1246.7 1087.8,1240.0 1087.3,1240.4 1086.8,1238.9 1086.3,1239.2 1085.8,1237.5 1085.3,1236.9 1084.8,1235.9 1084.3,1235.0 1083.8,1234.5 1083.3,1233.7 1082.8,1232.5 1082.3,1231.5 1081.8,1232.1 1081.3,1229.4 1080.8,1229.7 1080.3,1227.9 1079.8,1227.3 1079.3,1226.3 1078.8,1225.1 1078.3,1224.8 1077.8,1223.3 1077.3,1223.3 1076.8,1221.8 1076.3,1221.0 1075.8,1219.5 1075.3,1218.7 1074.8,1219.3 1074.3,1216.0 1073.8,1215.0 1073.3,1214.0 1072.8,1212.0 1072.3,1211.0 1071.8,1212.2 1071.3,1208.0 1070.8,1206.8 1070.3,1204.9 1069.8,1203.8 1069.3,1202.7 1068.8,1203.5 1068.3,1199.0 1067.8,1197.4 1067.3,1195.7 1066.8,1194.2 1066.3,1193.0 1065.8,1191.5 1065.3,1190.7 1064.8,1188.6 1064.3,1187.3 1063.8,1185.9 1063.3,1186.6 1062.8,1183.6 1062.3,1183.0 1061.8,1183.4 1061.3,1183.3 1060.8,1180.6 1060.3,1179.1 1059.8,1178.6 1059.3,1178.2 1058.8,1176.8 1058.3,1176.2 1057.8,1175.1 1057.3,1174.4 1056.8,1174.7 1056.3,1172.7 1055.8,1172.6 1055.3,1171.0 1054.8,1170.0 1054.3,1169.5 1053.8,1168.0 1053.3,1167.0 1052.8,1166.1 1052.3,1164.3 1051.8,1165.5 1051.3,1162.3 1050.8,1161.1 1050.3,1161.4 1049.8,1158.6 1049.3,1157.0 1048.8,1156.2 1048.3,1154.7 1047.8,1153.6 1047.3,1153.0 1046.8,1151.7 1046.3,1150.4 1045.8,1149.8 1045.3,1149.7 1044.8,1149.2 1044.3,1146.1 1043.8,1144.7 1043.3,1143.4 1042.8,1141.6 1042.3,1140.9 1041.8,1139.5 1041.3,1138.7 1040.8,1138.6 1040.3,1137.8 1039.8,1137.2 1039.3,1136.6 1038.8,1136.0 1038.3,1135.6 1037.8,1135.7 1037.3,1135.8 1036.8,1135.2 1036.3,1135.2 1035.8,1135.6 1035.3,1136.0 1034.8,1136.5 1034.3,1137.3 1033.8,1137.5 1033.3,1138.5 1032.8,1139.3 1032.3,1139.8 1031.8,1140.6 1031.3,1141.9 1030.8,1143.0 1030.3,1144.3 1029.8,1146.0 1029.3,1148.9 1028.8,1149.0 1028.3,1152.4 1027.8,1152.5 1027.3,1154.2 1026.8,1156.2 1026.3,1158.6 1025.8,1160.7 1025.3,1162.9 1024.8,1165.2 1024.3,1167.2 1023.8,1169.3 1023.3,1171.3 1022.8,1173.4 1022.3,1176.1 1021.8,1177.4 1021.3,1180.2 1020.8,1182.8 1020.3,1185.7 1019.8,1187.8 1019.3,1190.7 1018.8,1193.1 1018.3,1199.7 1017.8,1198.0 1017.3,1201.5 1016.8,1205.4 1016.3,1204.4 1015.8,1206.5 1015.3,1208.7 1014.8,1210.3 1014.3,1213.6 1013.8,1213.2 1013.3,1214.9 1012.8,1215.7 1012.3,1216.4 1011.8,1217.2 1011.3,1218.1 1010.8,1217.9 1010.3,1217.8 1009.8,1216.1 1009.3,1215.0 1008.8,1213.1 1008.3,1211.3 1007.8,1209.1 1007.3,1205.6 1006.8,1202.2 1006.3,1198.9 1005.8,1194.8 1005.3,1191.1 1004.8,1186.6 1004.3,1183.4 1003.8,1180.2 1003.3,1177.8 1002.8,1176.1 1002.3,1173.1 1001.8,1171.1 1001.3,1169.3 1000.8,1167.2 1000.3,1165.8 999.8,1163.9 999.3,1162.5 998.8,1160.3 998.3,1159.3 997.8,1156.6 997.3,1155.4 996.8,1154.4 996.3,1152.4 995.8,1151.6 995.3,1151.2 994.8,1150.8 994.3,1149.7 993.8,1149.4 993.3,1148.4 992.8,1150.9 992.3,1148.3 991.8,1147.1 991.3,1146.3 990.8,1145.9 990.3,1145.4 989.8,1145.3 989.3,1144.8 988.8,1145.8 988.3,1143.9 987.8,1143.2 987.3,1142.2 986.8,1141.7 986.3,1142.1 985.8,1140.5 985.3,1139.6 984.8,1139.4 984.3,1138.3 983.8,1137.4 983.3,1137.2 982.8,1135.9 982.3,1136.4 981.8,1133.5 981.3,1132.0 980.8,1130.7 980.3,1131.1 979.8,1127.7 979.3,1125.6 978.8,1123.7 978.3,1121.1 977.8,1118.7 977.3,1116.9 976.8,1114.8 976.3,1112.6 975.8,1110.9 975.3,1109.6 974.8,1108.4 974.3,1106.0 973.8,1105.4 973.3,1104.0 972.8,1101.7 972.3,1100.9 971.8,1099.1 971.3,1097.7 970.8,1096.7 970.3,1095.4 969.8,1094.4 969.3,1092.9 968.8,1091.6 968.3,1090.6 967.8,1089.3 967.3,1087.9 966.8,1086.9 966.3,1085.8 965.8,1084.6 965.3,1083.0 964.8,1081.8 964.3,1080.9 963.8,1079.3 963.3,1077.5 962.8,1076.3 962.3,1073.6 961.8,1072.2 961.3,1069.8 960.8,1068.3 960.3,1066.4 959.8,1064.1 959.3,1062.5 958.8,1060.5 958.3,1058.7 957.8,1058.9 957.3,1054.6 956.8,1053.4 956.3,1051.0 955.8,1049.6 955.3,1047.5 954.8,1044.7 954.3,1042.5 953.8,1039.6 953.3,1039.3 952.8,1035.0 952.3,1032.5 951.8,1030.5 951.3,1028.0 950.8,1026.2 950.3,1024.4 949.8,1022.2 949.3,1021.0 948.8,1019.3 948.3,1018.2 947.8,1016.5 947.3,1016.0 946.8,1015.3 946.3,1014.0 945.8,1013.8 945.3,1012.5 944.8,1013.0 944.3,1012.1 943.8,1012.0 943.3,1013.9 942.8,1012.8 942.3,1013.6 941.8,1015.6 941.3,1016.6 940.8,1015.8 940.3,1016.7 939.8,1017.5 939.3,1018.6 938.8,1020.5 938.3,1021.2 937.8,1023.0 937.3,1025.0 936.8,1025.9 936.3,1027.5 935.8,1029.7 935.3,1031.8 934.8,1034.4 934.3,1036.9 933.8,1039.0 933.3,1041.8 932.8,1045.7 932.3,1047.4 931.8,1050.5 931.3,1053.9 930.8,1057.0 930.3,1060.9 929.8,1063.7 929.3,1067.3 928.8,1070.7 928.3,1072.8 927.8,1075.7 927.3,1078.3 926.8,1080.6 926.3,1083.1 925.8,1086.1 925.3,1088.0 924.8,1090.6 924.3,1093.7 923.8,1095.7 923.3,1099.1 922.8,1099.5 922.3,1100.7 921.8,1101.4 921.3,1102.7 920.8,1104.1 920.3,1103.6 919.8,1102.7 919.3,1100.5 918.8,1096.9 918.3,1092.8 917.8,1090.1 917.3,1086.7 916.8,1083.1 916.3,1079.7 915.8,1076.8 915.3,1072.9 914.8,1071.1 914.3,1066.6 913.8,1062.7 913.3,1060.1 912.8,1057.6 912.3,1054.9 911.8,1053.1 911.3,1050.1 910.8,1047.8 910.3,1045.0 909.8,1042.1 909.3,1040.1 908.8,1038.6 908.3,1037.7 907.8,1036.6 907.3,1036.2 906.8,1035.4 906.3,1035.6 905.8,1034.4 905.3,1034.3 904.8,1034.2 904.3,1033.3 903.8,1033.6 903.3,1033.3 902.8,1034.2 902.3,1033.3 901.8,1033.7 901.3,1034.9 900.8,1034.2 900.3,1035.1 899.8,1035.1 899.3,1035.1 898.8,1035.3 898.3,1035.5 897.8,1035.3 897.3,1035.6 896.8,1035.3 896.3,1034.6 895.8,1034.9 895.3,1034.4 894.8,1034.3 894.3,1034.0 893.8,1032.8 893.3,1033.1 892.8,1030.7 892.3,1032.0 891.8,1027.1 891.3,1025.2 890.8,1024.8 890.3,1021.4 889.8,1019.3 889.3,1016.8 888.8,1014.0 888.3,1012.7 887.8,1009.5 887.3,1007.1 886.8,1004.5 886.3,1001.8 885.8,999.7 885.3,996.7 884.8,994.7 884.3,993.0 883.8,991.7 883.3,990.1 882.8,988.4 882.3,986.8 881.8,985.9 881.3,984.7 880.8,983.1 880.3,981.7 879.8,980.4 879.3,980.9 878.8,978.1 878.3,976.9 877.8,976.5 877.3,973.6 876.8,972.6 876.3,971.1 875.8,969.1 875.3,968.1 874.8,966.2 874.3,965.5 873.8,963.3 873.3,961.9 872.8,960.3 872.3,958.8 871.8,956.7 871.3,954.5 870.8,952.6 870.3,949.7 869.8,947.2 869.3,944.3 868.8,941.9 868.3,939.3 867.8,936.7 867.3,934.5 866.8,932.3 866.3,931.3 865.8,926.9 865.3,923.9 864.8,922.0 864.3,918.7 863.8,916.7 863.3,914.0 862.8,911.3 862.3,909.5 861.8,907.6 861.3,905.3 860.8,903.3 860.3,900.9 859.8,899.5 859.3,898.4 858.8,897.5 858.3,896.8 857.8,895.8 857.3,895.3 856.8,895.0 856.3,894.4 855.8,894.3 855.3,894.7 854.8,893.9 854.3,894.6 853.8,898.4 853.3,895.8 852.8,896.9 852.3,898.7 851.8,899.3 851.3,900.9 850.8,902.3 850.3,903.7 849.8,905.1 849.3,906.5 848.8,908.1 848.3,911.3 847.8,912.1 847.3,914.5 846.8,917.5 846.3,920.5 845.8,923.4 845.3,926.5 844.8,929.6 844.3,934.8 843.8,936.5 843.3,940.7 842.8,944.6 842.3,948.2 841.8,953.3 841.3,956.8 840.8,961.4 840.3,965.8 839.8,970.3 839.3,974.3 838.8,977.1 838.3,980.6 837.8,983.2 837.3,986.2 836.8,988.4 836.3,990.7 835.8,994.0 835.3,996.8 834.8,999.2 834.3,1002.6 833.8,1002.7 833.3,1002.0 832.8,1001.1 832.3,998.6 831.8,996.7 831.3,994.2 830.8,992.1 830.3,988.7 829.8,985.4 829.3,982.9 828.8,976.0 828.3,970.7 827.8,966.6 827.3,962.3 826.8,958.3 826.3,954.3 825.8,950.8 825.3,947.6 824.8,944.6 824.3,940.3 823.8,937.2 823.3,933.6 822.8,929.1 822.3,925.6 821.8,922.3 821.3,920.3 820.8,919.3 820.3,916.9 819.8,916.8 819.3,914.5 818.8,913.2 818.3,912.6 817.8,911.7 817.3,910.9 816.8,910.2 816.3,909.4 815.8,909.4 815.3,909.5 814.8,909.1 814.3,909.1 813.8,909.2 813.3,908.9 812.8,909.4 812.3,909.2 811.8,909.5 811.3,909.5 810.8,908.9 810.3,908.9 809.8,908.8 809.3,909.1 808.8,909.3 808.3,908.2 807.8,908.6 807.3,907.3 806.8,906.8 806.3,906.1 805.8,905.5 805.3,903.4 804.8,901.5 804.3,899.8 803.8,897.9 803.3,895.1 802.8,892.4 802.3,889.3 801.8,887.6 801.3,883.0 800.8,879.3 800.3,876.2 799.8,872.7 799.3,869.1 798.8,865.7 798.3,862.6 797.8,860.8 797.3,857.3 796.8,854.3 796.3,852.8 795.8,849.8 795.3,847.2 794.8,845.2 794.3,843.4 793.8,841.9 793.3,839.7 792.8,838.3 792.3,836.8 791.8,835.3 791.3,834.1 790.8,832.9 790.3,831.3 789.8,830.4 789.3,829.2 788.8,829.1 788.3,827.7 787.8,826.2 787.3,825.2 786.8,824.7 786.3,822.6 785.8,822.0 785.3,819.4 784.8,819.0 784.3,816.2 783.8,814.3 783.3,812.5 782.8,810.9 782.3,809.3 781.8,807.8 781.3,806.0 780.8,804.4 780.3,803.2 779.8,801.5 779.3,800.6 778.8,798.6 778.3,798.3 777.8,796.8 777.3,796.5 776.8,795.2 776.3,794.9 775.8,794.1 775.3,793.4 774.8,794.7 774.3,793.0 773.8,793.5 773.3,793.3 772.8,793.5 772.3,794.3 771.8,794.3 771.3,794.9 770.8,796.3 770.3,797.6 769.8,799.1 769.3,801.2 768.8,803.0 768.3,805.1 767.8,809.4 767.3,808.3 766.8,810.8 766.3,814.4 765.8,816.4 765.3,820.3 764.8,826.4 764.3,834.0 763.8,839.8 763.3,843.9 762.8,847.2 762.3,849.8 761.8,852.4 761.3,855.6 760.8,859.6 760.3,863.6 759.8,867.8 759.3,873.3 758.8,876.6 758.3,881.6 757.8,886.7 757.3,891.9 756.8,897.2 756.3,901.9 755.8,906.3 755.3,910.6 754.8,915.2 754.3,918.8 753.8,922.0 753.3,924.3 752.8,926.7 752.3,928.8 751.8,929.2 751.3,930.0 750.8,928.6 750.3,927.5 749.8,925.3 749.3,922.0 748.8,918.5 748.3,915.1 747.8,911.2 747.3,906.7 746.8,901.0 746.3,896.2 745.8,888.9 745.3,881.2 744.8,872.8 744.3,863.5 743.8,852.1 743.3,840.7 742.8,826.3 742.3,813.3 741.8,801.1 741.3,791.9 740.8,782.1 740.3,772.6 739.8,763.2 739.3,760.0 738.8,749.3 738.3,745.2 737.8,736.4 737.3,731.1 736.8,727.2 736.3,723.7 735.8,720.6 735.3,718.1 734.8,715.4 734.3,713.0 733.8,710.8 733.3,709.5 732.8,707.9 732.3,706.8 731.8,706.3 731.3,705.5 730.8,707.2 730.3,704.1 729.8,703.5 729.3,702.8 728.8,702.8 728.3,703.0 727.8,704.6 727.3,704.2 726.8,703.9 726.3,708.1 725.8,705.8 725.3,706.2 724.8,706.9 724.3,707.6 723.8,708.6 723.3,710.7 722.8,714.3 722.3,712.6 721.8,713.4 721.3,714.8 720.8,715.9 720.3,717.0 719.8,717.2 719.3,718.4 718.8,719.3 718.3,719.6 717.8,720.6 717.3,720.7 716.8,724.6 716.3,722.7 715.8,723.2 715.3,723.3 714.8,724.3 714.3,724.6 713.8,725.8 713.3,726.1 712.8,727.6 712.3,727.9 711.8,729.1 711.3,731.4 710.8,730.9 710.3,731.6 709.8,732.2 709.3,733.5 708.8,733.6 708.3,735.0 707.8,735.5 707.3,736.1 706.8,737.0 706.3,737.7 705.8,738.5 705.3,739.6 704.8,740.0 704.3,741.2 703.8,742.9 703.3,742.6 702.8,743.4 702.3,743.8 701.8,745.3 701.3,745.6 700.8,746.0 700.3,746.5 699.8,747.0 699.3,748.1 698.8,748.8 698.3,749.7 697.8,749.4 697.3,750.7 696.8,750.9 696.3,750.9 695.8,751.8 695.3,752.6 694.8,753.1 694.3,753.5 693.8,754.4 693.3,754.8 692.8,755.0 692.3,755.7 691.8,756.4 691.3,756.8 690.8,760.4 690.3,758.0 689.8,758.5 689.3,758.6 688.8,762.2 688.3,759.6 687.8,760.1 687.3,761.0 686.8,761.8 686.3,762.3 685.8,762.4 685.3,763.2 684.8,763.8 684.3,764.5 683.8,764.8 683.3,765.5 682.8,766.6 682.3,766.2 681.8,766.6 681.3,767.0 680.8,767.8 680.3,767.8 679.8,768.9 679.3,769.2 678.8,769.4 678.3,769.5 677.8,771.1 677.3,770.6 676.8,770.7 676.3,772.7 675.8,771.1 675.3,771.9 674.8,771.7 674.3,772.1 673.8,772.6 673.3,772.9 672.8,773.3 672.3,773.0 671.8,773.5 671.3,774.8 670.8,773.9 670.3,774.0 669.8,774.9 669.3,774.6 668.8,775.4 668.3,775.6 667.8,775.6 667.3,776.1 666.8,776.4 666.3,777.8 665.8,776.2 665.3,776.8 664.8,778.0 664.3,777.3 663.8,779.2 663.3,778.1 662.8,778.3 662.3,779.9 661.8,778.8 661.3,778.6 660.8,779.3 660.3,779.1 659.8,780.7 659.3,780.0 658.8,780.2 658.3,780.4 657.8,780.5 657.3,780.5 656.8,781.2 656.3,781.2 655.8,781.4 655.3,781.8 654.8,781.7 654.3,781.9 653.8,782.2 653.3,782.4 652.8,784.4 652.3,783.3 651.8,783.4 651.3,783.2 650.8,783.6 650.3,783.7 649.8,784.0 649.3,784.5 648.8,784.3 648.3,785.0 647.8,784.8 647.3,786.2 646.8,785.2 646.3,786.3 645.8,785.9 645.3,785.8 644.8,785.9 644.3,788.4 643.8,786.8 643.3,786.5 642.8,786.5 642.3,786.9 641.8,787.2 641.3,787.3 640.8,787.4 640.3,787.8 639.8,787.5 639.3,787.8 638.8,788.2 638.3,788.3 637.8,790.9 637.3,788.2 636.8,788.3 636.3,790.3 635.8,788.7 635.3,788.8 634.8,789.8 634.3,788.9 633.8,789.5 633.3,789.6 632.8,789.2 632.3,789.2 631.8,789.5 631.3,789.5 630.8,790.2 630.3,790.0 629.8,791.9 629.3,790.5 628.8,790.4 628.3,790.3 627.8,791.9 627.3,790.9 626.8,790.7 626.3,790.5 625.8,791.1 625.3,791.2 624.8,791.2 624.3,790.8 623.8,791.5 623.3,791.5 622.8,791.7 622.3,792.1 621.8,791.5 621.3,791.8 620.8,792.2 620.3,792.0 619.8,792.3 619.3,792.1 618.8,793.5 618.3,792.8 617.8,792.7 617.3,792.9 616.8,792.7 616.3,793.4 615.8,793.5 615.3,794.1 614.8,794.1 614.3,793.5 613.8,793.7 613.3,794.2 612.8,794.2 612.3,795.6 611.8,794.7 611.3,794.6 610.8,798.3 610.3,795.1 609.8,794.7 609.3,795.1 608.8,794.9 608.3,795.9 607.8,795.9 607.3,796.3 606.8,798.0 606.3,795.9 605.8,795.9 605.3,797.0 604.8,796.2 604.3,797.0 603.8,796.8 603.3,796.8 602.8,798.4 602.3,797.6 601.8,798.5 601.3,797.4 600.8,798.2 600.3,798.2 599.8,798.1 599.3,798.2 598.8,799.9 598.3,798.3 597.8,798.8 597.3,799.0 596.8,799.5 596.3,799.4 595.8,799.9 595.3,799.8 594.8,800.0 594.3,800.2 593.8,800.4 593.3,800.3 592.8,800.8 592.3,800.6 591.8,801.1 591.3,801.3 590.8,801.2 590.3,801.9 589.8,801.6 589.3,801.7 588.8,805.0 588.3,804.5 587.8,802.5 587.3,803.0 586.8,803.2 586.3,803.2 585.8,802.9 585.3,806.0 584.8,803.8 584.3,804.4 583.8,804.5 583.3,804.5 582.8,804.8 582.3,804.9 581.8,804.8 581.3,805.3 580.8,805.5 580.3,806.0 579.8,807.5 579.3,806.0 578.8,806.6 578.3,807.0 577.8,807.3 577.3,807.1 576.8,807.4 576.3,807.6 575.8,807.8 575.3,809.1 574.8,808.4 574.3,808.5 573.8,808.9 573.3,809.0 572.8,809.9 572.3,810.7 571.8,810.0 571.3,810.2 570.8,810.9 570.3,811.9 569.8,811.5 569.3,813.0 568.8,812.9 568.3,813.3 567.8,812.5 567.3,812.3 566.8,812.8 566.3,812.9 565.8,813.7 565.3,813.9 564.8,813.6 564.3,815.4 563.8,814.6 563.3,815.6 562.8,814.8 562.3,814.9 561.8,818.5 561.3,815.8 560.8,815.9 560.3,816.2 559.8,816.1 559.3,816.9 558.8,817.1 558.3,817.0 557.8,817.5 557.3,820.1 556.8,818.1 556.3,818.4 555.8,818.3 555.3,818.3 554.8,818.8 554.3,819.3 553.8,820.1 553.3,819.5 552.8,819.8 552.3,819.9 551.8,819.9 551.3,820.3 550.8,820.6 550.3,820.8 549.8,820.9 549.3,821.0 548.8,821.0 548.3,821.3 547.8,822.3 547.3,821.7 546.8,821.8 546.3,822.5 545.8,822.7 545.3,822.9 544.8,822.6 544.3,822.7 543.8,824.8 543.3,823.6 542.8,823.8 542.3,823.9 541.8,824.0 541.3,823.9 540.8,824.3 540.3,824.5 539.8,824.4 539.3,825.1 538.8,825.4 538.3,825.0 537.8,825.6 537.3,825.9 536.8,825.6 536.3,825.9 535.8,826.3 535.3,826.6 534.8,826.6 534.3,826.4 533.8,828.3 533.3,827.6 532.8,827.3 532.3,827.4 531.8,828.0 531.3,828.3 530.8,828.1 530.3,828.6 529.8,829.5 529.3,828.9 528.8,829.2 528.3,829.2 527.8,829.5 527.3,829.4 526.8,830.0 526.3,830.1 525.8,830.3 525.3,830.8 524.8,831.0 524.3,831.3 523.8,831.0 523.3,831.2 522.8,831.9 522.3,832.2 521.8,832.4 521.3,832.5 520.8,833.0 520.3,833.0 519.8,833.4 519.3,833.7 518.8,834.0 518.3,833.8 517.8,835.7 517.3,834.4 516.8,834.8 516.3,837.3 515.8,837.1 515.3,836.9 514.8,835.9 514.3,836.9 513.8,836.2 513.3,839.7 512.8,836.9 512.3,838.7 511.8,837.6 511.3,837.8 510.8,838.1 510.3,838.1 509.8,838.7 509.3,838.8 508.8,842.4 508.3,839.3 507.8,839.9 507.3,840.0 506.8,841.8 506.3,840.4 505.8,841.0 505.3,842.4 504.8,843.8 504.3,842.1 503.8,842.3 503.3,843.2 502.8,842.9 502.3,843.0 501.8,843.5 501.3,843.7 500.8,843.9 500.3,843.9 499.8,844.4 499.3,844.5 498.8,844.9 498.3,845.3 497.8,847.7 497.3,846.9 496.8,846.0 496.3,846.7 495.8,846.9 495.3,846.9 494.8,846.9 494.3,847.7 493.8,848.0 493.3,847.9 492.8,848.0 492.3,848.4 491.8,848.8 491.3,849.1 490.8,850.4 490.3,850.0 489.8,850.1 489.3,850.1 488.8,852.4 488.3,850.9 487.8,851.4 487.3,851.5 486.8,851.6 486.3,851.9 485.8,852.3 485.3,852.3 484.8,852.9 484.3,853.1 483.8,853.5 483.3,853.5 482.8,853.7 482.3,854.5 481.8,854.0 481.3,854.7 480.8,854.9 480.3,855.3 479.8,855.4 479.3,856.1 478.8,856.2 478.3,856.5 477.8,856.3 477.3,856.7 476.8,857.4 476.3,857.5 475.8,857.6 475.3,857.9 474.8,858.3 474.3,858.7 473.8,858.7 473.3,858.8 472.8,859.3 472.3,860.0 471.8,860.0 471.3,860.2 470.8,860.5 470.3,860.4 469.8,860.9 469.3,862.3 468.8,863.6 468.3,863.4 467.8,862.2 467.3,862.3 466.8,862.3 466.3,863.1 465.8,862.9 465.3,863.4 464.8,863.5 464.3,864.2 463.8,863.9 463.3,864.2 462.8,865.0 462.3,865.4 461.8,865.1 461.3,865.8 460.8,867.5 460.3,865.9 459.8,867.5 459.3,866.7 458.8,866.6 458.3,867.0 457.8,867.2 457.3,867.6 456.8,868.2 456.3,868.6 455.8,871.5 455.3,868.9 454.8,869.6 454.3,869.5 453.8,870.1 453.3,870.0 452.8,870.4 452.3,870.5 451.8,872.6 451.3,871.3 450.8,872.4 450.3,871.7 449.8,871.9 449.3,872.2 448.8,872.8 448.3,873.0 447.8,874.2 447.3,873.4 446.8,875.2 446.3,874.1 445.8,874.5 445.3,875.1 444.8,874.8 444.3,875.2 443.8,875.7 443.3,877.2 442.8,875.9 442.3,876.3 441.8,877.4 441.3,878.3 440.8,877.0 440.3,877.6 439.8,877.9 439.3,878.4 438.8,878.3 438.3,878.6 437.8,878.7 437.3,879.5 436.8,879.1 436.3,879.9 435.8,880.2 435.3,880.6 434.8,880.4 434.3,880.5 433.8,881.1 433.3,881.3 432.8,882.2 432.3,881.5 431.8,882.0 431.3,882.1 430.8,882.2 430.3,882.8 429.8,882.5 429.3,882.8 428.8,883.4 428.3,884.1 427.8,883.4 427.3,883.9 426.8,884.0 426.3,884.5 425.8,884.3 425.3,886.6 424.8,885.0 424.3,885.0 423.8,885.4 423.3,885.9 422.8,885.7 422.3,886.3 421.8,886.4 421.3,886.6 420.8,886.4 420.3,887.1 419.8,887.1 419.3,887.1 418.8,887.7 418.3,887.7 417.8,887.8 417.3,887.8 416.8,887.9 416.3,888.4 415.8,888.5 415.3,888.5 414.8,889.3 414.3,888.7 413.8,889.4 413.3,889.2 412.8,893.1 412.3,890.1 411.8,890.3 411.3,890.0 410.8,890.2 410.3,890.5 409.8,890.4 409.3,890.9 408.8,891.1 408.3,891.6 407.8,891.5 407.3,891.6 406.8,891.6 406.3,892.4 405.8,892.3 405.3,892.1 404.8,892.3 404.3,892.4 403.8,893.1 403.3,893.0 402.8,893.0 402.3,893.5 401.8,893.4 401.3,894.0 400.8,893.9 400.3,895.2 399.8,894.7 399.3,894.6 398.8,894.7 398.3,895.1 397.8,895.2 397.3,895.3 396.8,895.5 396.3,897.9 395.8,896.0 395.3,896.0 394.8,896.3 394.3,896.6 393.8,900.1 393.3,896.9 392.8,897.4 392.3,897.4 391.8,898.1 391.3,899.9 390.8,899.6 390.3,898.7 389.8,898.9 389.3,899.1 388.8,900.6 388.3,899.3 387.8,899.4 387.3,900.0 386.8,900.1 386.3,900.1 385.8,900.7 385.3,901.0 384.8,901.2 384.3,901.2 383.8,901.1 383.3,902.1 382.8,901.8 382.3,902.3 381.8,902.4 381.3,902.4 380.8,902.8 380.3,903.2 379.8,903.5 379.3,904.0 378.8,904.5 378.3,905.4 377.8,904.0 377.3,905.5 376.8,904.9 376.3,905.0 375.8,905.3 375.3,905.4 374.8,906.1 374.3,905.9 373.8,906.2 373.3,906.7 372.8,906.8 372.3,906.9 371.8,907.4 371.3,908.3 370.8,907.6 370.3,907.8 369.8,908.2 369.3,908.3 368.8,908.5 368.3,909.2 367.8,909.4 367.3,909.5 366.8,911.8 366.3,909.9 365.8,909.9 365.3,910.2 364.8,910.7 364.3,913.3 363.8,911.1 363.3,911.2 362.8,911.3 362.3,911.7 361.8,912.8 361.3,912.5 360.8,913.8 360.3,912.9 359.8,913.3 359.3,913.6 358.8,913.9 358.3,913.7 357.8,914.3 357.3,914.4 356.8,914.5 356.3,915.9 355.8,914.9 355.3,914.9 354.8,915.7 354.3,916.1 353.8,915.8 353.3,916.2 352.8,916.6 352.3,916.6 351.8,918.6 351.3,917.9 350.8,917.3 350.3,917.4 349.8,918.4 349.3,918.7 348.8,918.5 348.3,918.6 347.8,919.0 347.3,919.0 346.8,919.5 346.3,919.4 345.8,919.9 345.3,920.0 344.8,920.2 344.3,920.4 343.8,921.3 343.3,922.8 342.8,921.3 342.3,921.1 341.8,921.4 341.3,923.3 340.8,922.1 340.3,922.1 339.8,922.4 339.3,923.3 338.8,922.8 338.3,923.8 337.8,923.2 337.3,923.9 336.8,924.2 336.3,924.4 335.8,924.0 335.3,925.2 334.8,925.1 334.3,927.5 333.8,925.2 333.3,926.1 332.8,926.0 332.3,926.3 331.8,926.1 331.3,926.1 330.8,927.0 330.3,927.1 329.8,927.2 329.3,927.0 328.8,927.5 328.3,927.9 327.8,927.7 327.3,928.6 326.8,929.4 326.3,928.4 325.8,929.8 325.3,928.9 324.8,929.3 324.3,929.4 323.8,930.0 323.3,930.2 322.8,931.2 322.3,930.2 321.8,930.8 321.3,931.0 320.8,931.0 320.3,931.1 319.8,931.2 319.3,931.8 318.8,932.2 318.3,932.1 317.8,932.8 317.3,932.4 316.8,933.0 316.3,934.0 315.8,933.4 315.3,933.5 314.8,933.7 314.3,934.2 313.8,934.3 313.3,934.7 312.8,934.7 312.3,935.1 311.8,934.8 311.3,935.4 310.8,935.3 310.3,935.5 309.8,935.4 309.3,936.3 308.8,936.5 308.3,936.2 307.8,936.9 307.3,937.3 306.8,937.1 306.3,937.4 305.8,937.5 305.3,937.8 304.8,938.1 304.3,938.2 303.8,938.6 303.3,938.5 302.8,938.3 302.3,938.5 301.8,938.9 301.3,938.9 300.8,939.4 300.3,939.8 299.8,939.7 299.3,939.9 298.8,939.9 298.3,940.3 297.8,940.5 297.3,942.0 296.8,941.0 296.3,941.2 295.8,941.5 295.3,941.6 294.8,942.9 294.3,942.2 293.8,942.4 293.3,942.0 292.8,942.1 292.3,942.5 291.8,945.0 291.3,942.7 290.8,943.4 290.3,943.7 289.8,943.7 289.3,943.6 288.8,943.8 288.3,944.0 287.8,944.4 287.3,944.8 286.8,944.5 286.3,944.7 285.8,944.9 285.3,945.3 284.8,945.5 284.3,945.7 283.8,945.6 283.3,946.0 282.8,946.4 282.3,946.2 281.8,946.9 281.3,946.6 280.8,946.9 280.3,947.3 279.8,947.3 279.3,947.3 278.8,947.9 278.3,948.0 277.8,948.3 277.3,948.0 276.8,949.2 276.3,949.1 275.8,948.5 275.3,948.8 274.8,949.2 274.3,949.4 273.8,949.4 273.3,949.6 272.8,949.9 272.3,949.8 271.8,950.0 271.3,950.5 270.8,950.3 270.3,950.8 269.8,950.7 269.3,950.6 268.8,951.2 268.3,951.5 267.8,951.7 267.3,952.1 266.8,952.0 266.3,952.1 265.8,951.8 265.3,952.9 264.8,952.3 264.3,952.9 263.8,952.6 263.3,952.6 262.8,952.8 262.3,953.5 261.8,953.3 261.3,953.9 260.8,953.4 260.3,953.6 259.8,953.8 259.3,953.9 258.8,954.1 258.3,954.2 257.8,954.6 257.3,955.0 256.8,955.8 256.3,955.2 255.8,955.8 255.3,955.2 254.8,955.7 254.3,955.8 253.8,955.4 253.3,956.0 252.8,955.9 252.3,956.5 251.8,956.5 251.3,956.6 250.8,956.7 250.3,956.7 249.8,957.2 249.3,957.0 248.8,956.9 248.3,957.5 247.8,957.7 247.3,957.5 246.8,957.5 246.3,958.3 245.8,959.0 245.3,958.5 244.8,958.7 244.3,958.5 243.8,958.5 243.3,958.7 242.8,958.9 242.3,959.3 241.8,960.0 241.3,959.4 240.8,959.4 240.3,959.5 239.8,960.2 239.3,959.9 238.8,962.0 238.3,960.5 237.8,960.4 237.3,960.6 236.8,961.3 236.3,961.2 235.8,960.7 235.3,961.5 234.8,961.2 234.3,961.8 233.8,961.8 233.3,962.0 232.8,961.8 232.3,963.4 231.8,963.1 231.3,962.2 230.8,962.7 230.3,962.5 229.8,962.8 229.3,963.3 228.8,962.8 228.3,963.2 227.8,963.3 227.3,963.6 226.8,963.9 226.3,963.7 225.8,964.2 225.3,964.0 224.8,964.0 224.3,964.5 223.8,964.6 223.3,964.6 222.8,964.8 222.3,965.0 221.8,965.4 221.3,965.1 220.8,966.9 220.3,965.7 219.8,965.8 219.3,966.4 218.8,966.6 218.3,966.7 217.8,966.5 217.3,967.5 216.8,966.5 216.3,967.4 215.8,970.9 215.3,967.7 214.8,967.3 214.3,969.1 213.8,967.6 213.3,967.8 212.8,968.0 212.3,967.9 211.8,968.0 211.3,968.8 210.8,968.6 210.3,968.7 209.8,968.9 209.3,968.8 208.8,969.0 208.3,970.1 207.8,969.7 207.3,969.8 206.8,971.0 206.3,970.1 205.8,970.0 205.3,970.3 204.8,971.1 204.3,970.6 203.8,971.7 203.3,970.6 202.8,971.2 202.3,972.1 201.8,971.6 201.3,971.3 200.8,971.4 200.3,972.0 199.8,972.3 199.3,971.9 198.8,972.4 198.3,972.3 197.8,973.1 197.3,972.9 196.8,973.5 196.3,972.7 195.8,972.9 195.3,973.4 194.8,973.1 194.3,973.7 193.8,973.6 193.3,973.7 192.8,974.2 192.3,974.6 191.8,975.1 191.3,974.8 190.8,974.4 190.3,974.9 189.8,975.0 189.3,975.0 188.8,975.0 188.3,975.0 187.8,977.8 187.3,975.2 186.8,976.0 186.3,975.5 185.8,976.1 185.3,976.3 184.8,976.4 184.3,976.2 183.8,979.2 183.3,977.0 182.8,977.0 182.3,976.8 181.8,976.9 181.3,976.9 180.8,977.0 180.3,977.6 179.8,977.8 179.3,977.5 178.8,977.8 178.3,977.9 177.8,978.2 177.3,978.0 176.8,978.3 176.3,978.5 175.8,978.9 175.3,979.0 174.8,979.2 174.3,979.2 173.8,978.8 173.3,979.3 172.8,982.2 172.3,979.5 171.8,983.5 171.3,981.3 170.8,980.0 170.3,979.7 169.8,981.9 169.3,983.6 168.8,980.9 168.3,980.7 167.8,980.9 167.3,981.0 166.8,981.0 166.3,981.2 165.8,981.1 165.3,980.9 164.8,981.3 164.3,981.4 163.8,981.7 163.3,982.8 162.8,981.6 162.3,982.1 161.8,982.2 161.3,983.1 160.8,982.7 160.3,982.6 159.8,982.7 159.3,982.5 158.8,982.8 158.3,983.3 157.8,983.2 157.3,983.4 156.8,983.4 156.3,983.3 155.8,983.7 155.3,983.8 154.8,983.9 154.3,983.9 153.8,984.4 153.3,983.9 152.8,984.4 152.3,984.3 151.8,984.7 151.3,984.4 150.8,984.6 150.3,985.2 149.8,984.9 149.3,984.9 148.8,985.5 148.3,985.1 147.8,985.2 147.3,985.4 146.8,985.6 146.3,985.9 145.8,986.2 145.3,986.1 144.8,986.0 144.3,986.2 143.8,986.3 143.3,986.6 142.8,987.0 142.3,986.5 141.8,987.3 141.3,987.1 140.8,987.4 140.3,987.5 139.8,987.6 139.3,987.3 138.8,987.8 138.3,987.7 137.8,988.1 137.3,988.1 136.8,988.3 136.3,988.3 135.8,988.8 135.3,988.6 134.8,988.6 134.3,989.1 133.8,989.0 133.3,989.1 132.8,989.2 132.3,989.7 131.8,989.4 131.3,989.8 130.8,989.9 130.3,991.3 129.8,989.9 129.3,990.4 128.8,990.7 128.3,991.0 127.8,990.5 127.3,990.9 126.8,990.5 126.3,990.7 125.8,990.9 125.3,990.9 124.8,991.4 124.3,991.7 123.8,991.5 123.3,991.6 122.8,991.8 122.3,992.0 121.8,992.5 121.3,991.9 120.8,992.1 120.3,992.8 119.8,993.0 119.3,993.0 118.8,992.9 118.3,993.6 117.8,993.4 117.3,994.8 116.8,993.3 116.3,993.9 115.8,993.8 115.3,993.7 114.8,994.1 114.3,993.7 113.8,995.0 113.3,994.3 112.8,994.4 112.3,994.8 111.8,994.9 111.3,994.8 110.8,994.9 110.3,995.0 109.8,994.8 109.3,995.5 108.8,995.6 108.3,995.1 107.8,995.4 107.3,995.5 106.8,998.0 106.3,995.7 105.8,996.4 105.3,996.5 104.8,996.6 104.3,996.2 103.8,996.7 103.3,996.5 102.8,996.6 102.3,997.0 101.8,997.0 101.3,998.5 100.8,998.5 100.3,997.0 99.8,997.4 99.3,997.4 98.8,997.5 98.3,998.0 97.8,998.2 97.3,998.0 96.8,998.2 96.3,998.5 95.8,998.1 95.3,999.1 94.8,998.3 94.3,998.9 93.8,998.8 93.3,998.6 92.8,999.2 92.3,999.8 91.8,999.0 91.3,999.3 90.8,999.1 90.3,999.4 89.8,999.8 89.3,999.3 88.8,999.6 88.3,999.9 87.8,999.7 87.3,1001.0 86.8,1000.0 86.3,1000.4 85.8,1000.1 85.3,1001.4 84.8,1000.9 84.3,1000.4 83.8,1001.1 83.3,1001.0 82.8,1003.3 82.3,1001.2 81.8,1001.4 81.3,1002.0 80.8,1001.6 80.3,1004.5 79.8,1001.3 79.3,1001.6 78.8,1002.4 78.3,1002.1 77.8,1003.0 77.3,1001.8 76.8,1002.4 76.3,1002.5 75.8,1002.6 75.3,1002.5 74.8,1002.3 74.3,1003.1 73.8,1002.5 73.3,1002.9 72.8,1003.3 72.3,1003.1 71.8,1003.2 71.3,1003.0 70.8,1003.0 70.3,1003.6 69.8,1003.5 69.3,1004.4 68.8,1003.8 68.3,1003.9 67.8,1003.8 67.3,1004.0 66.8,1003.9 66.3,1004.5 65.8,1004.3 65.3,1004.4 64.8,1004.7 64.3,1004.7 63.8,1004.7 63.3,1004.4 62.8,1006.5 62.3,1005.1 61.8,1004.8 61.3,1005.2 60.8,1005.4 60.3,1004.9 59.8,1005.3 59.3,1005.2 58.8,1005.6 58.3,1005.2 57.8,1005.5 57.3,1006.0 56.8,1005.9 56.3,1005.9 55.8,1007.6 55.3,1006.4 54.8,1006.2 54.3,1006.1 53.8,1006.3 53.3,1006.7 52.8,1006.7 52.3,1006.9 51.8,1006.4 51.3,1008.3 50.8,1006.6 50.3,1007.0 49.8,1007.8 49.3,1007.2 48.8,1007.1 48.3,1007.1 47.8,1007.5 47.3,1007.4 46.8,1007.4 46.3,1007.4 45.8,1007.6 45.3,1007.8 44.8,1008.2 44.3,1008.1 43.8,1007.7 43.3,1007.8 42.8,1008.5 42.3,1008.1 41.8,1008.1 41.3,1008.3 40.8,1008.7 40.3,1009.4 39.8,1008.4 39.3,1008.5 38.8,1008.6 38.3,1008.7 37.8,1009.3 37.3,1010.1 36.8,1009.4 36.3,1009.1 35.8,1009.4 35.3,1009.4 34.8,1009.1 34.3,1011.1 33.8,1009.3 33.3,1009.4 32.8,1009.9 32.3,1009.7 31.8,1009.9 31.3,1009.7 30.8,1010.1 30.3,1010.3 29.8,1010.4 29.3,1010.4Z" shape-rendering="crispEdges" fill="#000" stroke="#000" stroke-width="2.3" stroke-linejoin="round" stroke-linecap="round"/>
<!-- frame -->
<rect x="26.8" y="30.9" width="1875" height="1510.1" fill="none" stroke="#000" stroke-width="5.8" stroke-linejoin="bevel"/>
<!-- raster seams -->
<g fill="#fff" shape-rendering="crispEdges">
<rect x="0" y="995" width="1928" height="1"/><rect x="0" y="1092" width="1928" height="1"/><rect x="0" y="1189" width="1928" height="1"/><rect x="0" y="1286" width="1928" height="1"/><rect x="0" y="1383" width="1928" height="1"/>
</g>
<!-- legend -->
<rect x="1485.8" y="73" width="386.6" height="138" fill="none" stroke="#000" stroke-width="2"/>
<line x1="1492" y1="109" x2="1612.7" y2="109" stroke="#ff0000" stroke-width="2"/>
<line x1="1492" y1="175.3" x2="1612.7" y2="175.3" stroke="#000" stroke-width="2.2"/>
<text x="1626.5" y="127.9" font-size="53.9">simulated</text>
<text x="1626.5" y="192.7" font-size="53.9">measured</text>
<!-- tick labels -->
<g font-size="66.9" text-anchor="middle">
<text transform="translate(214.3 1622.8) scale(0.965 1)">250</text>
<text transform="translate(683 1622.8) scale(0.965 1)">300</text>
<text transform="translate(1151.8 1622.8) scale(0.965 1)">350</text>
<text transform="translate(1620.4 1622.8) scale(0.965 1)">400</text>
</g>
<text transform="translate(963.4 1745.5) scale(0.98 1)" font-size="79.3" text-anchor="middle"><tspan font-size="83.6">M</tspan>agnetic <tspan font-size="83.6">F</tspan>ield [m<tspan font-size="83.6">T</tspan>]</text>
</svg>
</body></html>
